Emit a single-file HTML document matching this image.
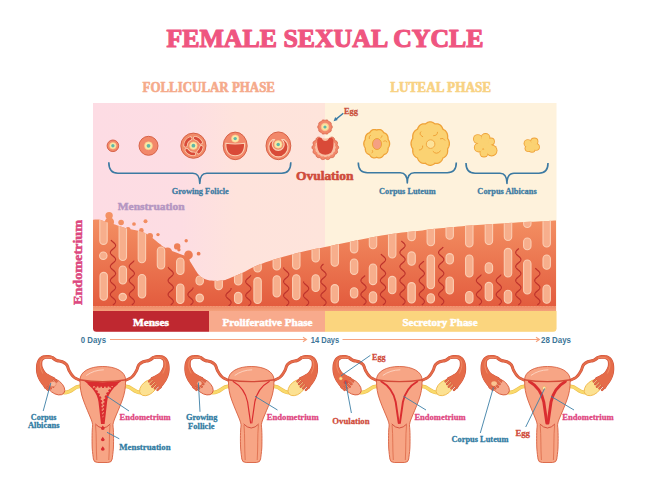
<!DOCTYPE html>
<html><head><meta charset="utf-8"><style>
html,body{margin:0;padding:0;background:#fff;width:650px;height:488px;overflow:hidden}
svg{display:block}
</style></head><body>
<svg width="650" height="488" viewBox="0 0 650 488">
<rect width="650" height="488" fill="#FFFFFF"/>
<text x="166.5" y="46.6" font-family='"Liberation Serif", serif' font-size="25.5" font-weight="bold" fill="#EF5580" text-anchor="start" textLength="317" lengthAdjust="spacingAndGlyphs" stroke="#EF5580" stroke-width="1.15" stroke-linejoin="round" >FEMALE SEXUAL CYCLE</text>
<text x="142.5" y="91.8" font-family='"Liberation Serif", serif' font-size="14" font-weight="bold" fill="#F5AA8B" text-anchor="start" textLength="132.5" lengthAdjust="spacingAndGlyphs" stroke="#F5AA8B" stroke-width="0.63" stroke-linejoin="round" >FOLLICULAR PHASE</text>
<text x="390.2" y="91.9" font-family='"Liberation Serif", serif' font-size="14" font-weight="bold" fill="#F8D283" text-anchor="start" textLength="101" lengthAdjust="spacingAndGlyphs" stroke="#F8D283" stroke-width="0.63" stroke-linejoin="round" >LUTEAL PHASE</text>
<defs><linearGradient id="pinkg" x1="0" x2="1" y1="0" y2="0"><stop offset="0" stop-color="#FDDCE4"/><stop offset="0.38" stop-color="#FDDDE3"/><stop offset="0.62" stop-color="#FEE3DC"/><stop offset="1" stop-color="#FEE4DB"/></linearGradient><linearGradient id="endog" x1="0" x2="0" y1="0" y2="1" gradientUnits="userSpaceOnUse"></linearGradient><linearGradient id="endo" x1="0" y1="215" x2="0" y2="311" gradientUnits="userSpaceOnUse"><stop offset="0" stop-color="#F49264"/><stop offset="1" stop-color="#E2593C"/></linearGradient><clipPath id="panelclip"><path d="M93,103 H556.5 V328.3 Q556.5,331.8 553,331.8 H96.5 Q93,331.8 93,328.3 Z"/></clipPath></defs>
<g clip-path="url(#panelclip)">
<rect x="93" y="103" width="232" height="229" fill="url(#pinkg)"/>
<rect x="325" y="103" width="232" height="229" fill="#FEF2DC"/>
<path d="M93,219.8 C94.2,219.8 97.8,219.4 100,219.8 C102.2,220.2 103.5,221.2 106,222 C108.5,222.8 111.6,223.4 115,224.5 C118.4,225.6 122.9,227.5 126.6,228.5 C130.3,229.5 133.8,229.7 137,230.5 C140.2,231.3 143.0,231.9 146,233.5 C149.0,235.1 152.2,237.8 155,240 C157.8,242.2 160.2,244.7 163,246.5 C165.8,248.3 169.2,249.8 172,251 C174.8,252.2 177.7,253.1 180,254 C182.3,254.9 184.2,255.2 186,256.5 C187.8,257.8 189.1,260.0 190.5,262 C191.9,264.0 193.1,266.3 194.5,268.5 C195.9,270.7 197.1,273.1 199,275 C200.9,276.9 203.6,278.6 206,279.6 C208.4,280.6 211.0,280.6 213.7,280.8 C216.4,281.0 219.4,281.0 222,280.6 C224.6,280.2 225.7,279.8 229,278.5 C232.3,277.2 237.7,275.0 242,273 C246.3,271.0 250.2,268.5 254.8,266.5 C259.4,264.5 264.1,262.8 269.6,261 C275.1,259.2 281.9,257.2 288,255.5 C294.1,253.8 300.3,252.2 306.5,250.8 C312.7,249.4 319.3,248.2 325,247 C330.7,245.8 334.5,244.9 340.5,243.7 C346.5,242.5 354.2,241.0 361,239.6 C367.8,238.2 374.6,236.7 381.4,235.5 C388.2,234.3 395.2,233.2 402,232.4 C408.8,231.6 416.1,231.1 422.4,230.4 C428.7,229.7 432.1,229.1 440,228.3 C447.9,227.5 460.0,226.3 470,225.5 C480.0,224.7 490.0,224.1 500,223.5 C510.0,222.9 520.7,222.3 530,221.8 C539.3,221.3 551.7,220.6 556,220.4 L556,311 L93,311 Z" fill="url(#endo)"/>
<clipPath id="endoclip"><path d="M93,219.8 C94.2,219.8 97.8,219.4 100,219.8 C102.2,220.2 103.5,221.2 106,222 C108.5,222.8 111.6,223.4 115,224.5 C118.4,225.6 122.9,227.5 126.6,228.5 C130.3,229.5 133.8,229.7 137,230.5 C140.2,231.3 143.0,231.9 146,233.5 C149.0,235.1 152.2,237.8 155,240 C157.8,242.2 160.2,244.7 163,246.5 C165.8,248.3 169.2,249.8 172,251 C174.8,252.2 177.7,253.1 180,254 C182.3,254.9 184.2,255.2 186,256.5 C187.8,257.8 189.1,260.0 190.5,262 C191.9,264.0 193.1,266.3 194.5,268.5 C195.9,270.7 197.1,273.1 199,275 C200.9,276.9 203.6,278.6 206,279.6 C208.4,280.6 211.0,280.6 213.7,280.8 C216.4,281.0 219.4,281.0 222,280.6 C224.6,280.2 225.7,279.8 229,278.5 C232.3,277.2 237.7,275.0 242,273 C246.3,271.0 250.2,268.5 254.8,266.5 C259.4,264.5 264.1,262.8 269.6,261 C275.1,259.2 281.9,257.2 288,255.5 C294.1,253.8 300.3,252.2 306.5,250.8 C312.7,249.4 319.3,248.2 325,247 C330.7,245.8 334.5,244.9 340.5,243.7 C346.5,242.5 354.2,241.0 361,239.6 C367.8,238.2 374.6,236.7 381.4,235.5 C388.2,234.3 395.2,233.2 402,232.4 C408.8,231.6 416.1,231.1 422.4,230.4 C428.7,229.7 432.1,229.1 440,228.3 C447.9,227.5 460.0,226.3 470,225.5 C480.0,224.7 490.0,224.1 500,223.5 C510.0,222.9 520.7,222.3 530,221.8 C539.3,221.3 551.7,220.6 556,220.4 L556,311 L93,311 Z"/></clipPath>
<circle cx="109.1" cy="215.6" r="3.7" fill="url(#endo)"/>
<circle cx="109.5" cy="222" r="4.6" fill="url(#endo)"/>
<circle cx="121.1" cy="222.5" r="2.8" fill="url(#endo)"/>
<circle cx="134" cy="224" r="1.85" fill="url(#endo)"/>
<circle cx="145.5" cy="221.2" r="2.0" fill="url(#endo)"/>
<circle cx="141.4" cy="230.4" r="2.3" fill="url(#endo)"/>
<circle cx="156.9" cy="247.5" r="4.5" fill="url(#endo)"/>
<circle cx="167.6" cy="252" r="4.5" fill="url(#endo)"/>
<circle cx="177.2" cy="246.4" r="3.2" fill="url(#endo)"/>
<circle cx="178.9" cy="249.8" r="1.7" fill="url(#endo)"/>
<circle cx="158" cy="234.6" r="1.7" fill="url(#endo)"/>
<circle cx="186.2" cy="240.8" r="1.7" fill="url(#endo)"/>
<circle cx="188.5" cy="254.9" r="4.3" fill="url(#endo)"/>
<circle cx="188" cy="260" r="1.7" fill="url(#endo)"/>
<circle cx="198.6" cy="253.7" r="1.9" fill="url(#endo)"/>
<circle cx="173.8" cy="260" r="3.5" fill="url(#endo)"/>
<circle cx="187.3" cy="271.2" r="3.5" fill="url(#endo)"/>
<circle cx="128" cy="229.5" r="2.5" fill="url(#endo)"/>
<circle cx="150" cy="236" r="3" fill="url(#endo)"/>
<g clip-path="url(#endoclip)">
<rect x="99.8" y="215.0" width="7.4" height="29.4" rx="3.7" fill="#F7AE8C" stroke="#FBCDB2" stroke-width="1.1"/>
<rect x="99.6" y="252.0" width="7.4" height="7.4" rx="3.7" fill="#F7AE8C" stroke="#FBCDB2" stroke-width="1.1"/>
<rect x="100.0" y="272.4" width="7.4" height="27.9" rx="3.7" fill="#F7AE8C" stroke="#FBCDB2" stroke-width="1.1"/>
<rect x="119.1" y="222.0" width="7.4" height="38.5" rx="3.7" fill="#F7AE8C" stroke="#FBCDB2" stroke-width="1.1"/>
<rect x="119.1" y="266.0" width="7.4" height="18.0" rx="3.7" fill="#F7AE8C" stroke="#FBCDB2" stroke-width="1.1"/>
<rect x="119.0" y="293.4" width="7.4" height="7.4" rx="3.7" fill="#F7AE8C" stroke="#FBCDB2" stroke-width="1.1"/>
<rect x="138.2" y="229.0" width="7.4" height="33.7" rx="3.7" fill="#F7AE8C" stroke="#FBCDB2" stroke-width="1.1"/>
<rect x="138.3" y="274.5" width="7.4" height="23.5" rx="3.7" fill="#F7AE8C" stroke="#FBCDB2" stroke-width="1.1"/>
<rect x="157.3" y="247.0" width="7.4" height="22.0" rx="3.7" fill="#F7AE8C" stroke="#FBCDB2" stroke-width="1.1"/>
<rect x="176.6" y="258.0" width="7.4" height="16.5" rx="3.7" fill="#F7AE8C" stroke="#FBCDB2" stroke-width="1.1"/>
<rect x="176.6" y="284.0" width="7.4" height="19.5" rx="3.7" fill="#F7AE8C" stroke="#FBCDB2" stroke-width="1.1"/>
<rect x="196.0" y="276.0" width="7.4" height="9.0" rx="3.7" fill="#F7AE8C" stroke="#FBCDB2" stroke-width="1.1"/>
<rect x="196.0" y="294.1" width="7.4" height="7.8" rx="3.7" fill="#F7AE8C" stroke="#FBCDB2" stroke-width="1.1"/>
<rect x="215.0" y="275.0" width="7.4" height="14.6" rx="3.7" fill="#F7AE8C" stroke="#FBCDB2" stroke-width="1.1"/>
<rect x="234.5" y="270.0" width="7.4" height="15.0" rx="3.7" fill="#F7AE8C" stroke="#FBCDB2" stroke-width="1.1"/>
<rect x="234.5" y="292.4" width="7.4" height="11.1" rx="3.7" fill="#F7AE8C" stroke="#FBCDB2" stroke-width="1.1"/>
<rect x="253.9" y="262.0" width="7.4" height="10.0" rx="3.7" fill="#F7AE8C" stroke="#FBCDB2" stroke-width="1.1"/>
<rect x="253.9" y="277.6" width="7.4" height="25.9" rx="3.7" fill="#F7AE8C" stroke="#FBCDB2" stroke-width="1.1"/>
<rect x="273.1" y="256.0" width="7.4" height="14.0" rx="3.7" fill="#F7AE8C" stroke="#FBCDB2" stroke-width="1.1"/>
<rect x="273.1" y="275.8" width="7.4" height="21.2" rx="3.7" fill="#F7AE8C" stroke="#FBCDB2" stroke-width="1.1"/>
<rect x="292.6" y="250.0" width="7.4" height="19.3" rx="3.7" fill="#F7AE8C" stroke="#FBCDB2" stroke-width="1.1"/>
<rect x="292.6" y="274.8" width="7.4" height="25.0" rx="3.7" fill="#F7AE8C" stroke="#FBCDB2" stroke-width="1.1"/>
<rect x="312.0" y="246.0" width="7.4" height="16.0" rx="3.7" fill="#F7AE8C" stroke="#FBCDB2" stroke-width="1.1"/>
<rect x="312.0" y="274.8" width="7.4" height="16.7" rx="3.7" fill="#F7AE8C" stroke="#FBCDB2" stroke-width="1.1"/>
<rect x="331.1" y="242.0" width="7.4" height="24.2" rx="3.7" fill="#F7AE8C" stroke="#FBCDB2" stroke-width="1.1"/>
<rect x="331.1" y="284.6" width="7.4" height="18.4" rx="3.7" fill="#F7AE8C" stroke="#FBCDB2" stroke-width="1.1"/>
<rect x="350.4" y="238.0" width="7.4" height="14.9" rx="3.7" fill="#F7AE8C" stroke="#FBCDB2" stroke-width="1.1"/>
<rect x="350.4" y="259.0" width="7.4" height="15.4" rx="3.7" fill="#F7AE8C" stroke="#FBCDB2" stroke-width="1.1"/>
<rect x="350.4" y="287.7" width="7.4" height="10.3" rx="3.7" fill="#F7AE8C" stroke="#FBCDB2" stroke-width="1.1"/>
<rect x="369.3" y="234.0" width="7.4" height="14.8" rx="3.7" fill="#F7AE8C" stroke="#FBCDB2" stroke-width="1.1"/>
<rect x="369.3" y="264.0" width="7.4" height="20.6" rx="3.7" fill="#F7AE8C" stroke="#FBCDB2" stroke-width="1.1"/>
<rect x="369.3" y="291.8" width="7.4" height="11.2" rx="3.7" fill="#F7AE8C" stroke="#FBCDB2" stroke-width="1.1"/>
<rect x="388.5" y="230.0" width="7.4" height="28.0" rx="3.7" fill="#F7AE8C" stroke="#FBCDB2" stroke-width="1.1"/>
<rect x="388.5" y="276.4" width="7.4" height="17.4" rx="3.7" fill="#F7AE8C" stroke="#FBCDB2" stroke-width="1.1"/>
<rect x="407.9" y="227.0" width="7.4" height="13.6" rx="3.7" fill="#F7AE8C" stroke="#FBCDB2" stroke-width="1.1"/>
<rect x="407.9" y="251.9" width="7.4" height="13.3" rx="3.7" fill="#F7AE8C" stroke="#FBCDB2" stroke-width="1.1"/>
<rect x="407.9" y="282.6" width="7.4" height="20.4" rx="3.7" fill="#F7AE8C" stroke="#FBCDB2" stroke-width="1.1"/>
<rect x="427.1" y="225.0" width="7.4" height="20.7" rx="3.7" fill="#F7AE8C" stroke="#FBCDB2" stroke-width="1.1"/>
<rect x="427.1" y="255.0" width="7.4" height="33.7" rx="3.7" fill="#F7AE8C" stroke="#FBCDB2" stroke-width="1.1"/>
<rect x="427.1" y="293.8" width="7.4" height="9.2" rx="3.7" fill="#F7AE8C" stroke="#FBCDB2" stroke-width="1.1"/>
<rect x="446.0" y="222.0" width="7.4" height="17.2" rx="3.7" fill="#F7AE8C" stroke="#FBCDB2" stroke-width="1.1"/>
<rect x="446.0" y="253.6" width="7.4" height="10.4" rx="3.7" fill="#F7AE8C" stroke="#FBCDB2" stroke-width="1.1"/>
<rect x="446.0" y="277.0" width="7.4" height="17.0" rx="3.7" fill="#F7AE8C" stroke="#FBCDB2" stroke-width="1.1"/>
<rect x="465.6" y="222.0" width="7.4" height="25.0" rx="3.7" fill="#F7AE8C" stroke="#FBCDB2" stroke-width="1.1"/>
<rect x="465.6" y="255.0" width="7.4" height="22.0" rx="3.7" fill="#F7AE8C" stroke="#FBCDB2" stroke-width="1.1"/>
<rect x="465.6" y="291.5" width="7.4" height="11.8" rx="3.7" fill="#F7AE8C" stroke="#FBCDB2" stroke-width="1.1"/>
<rect x="485.2" y="220.0" width="7.4" height="24.5" rx="3.7" fill="#F7AE8C" stroke="#FBCDB2" stroke-width="1.1"/>
<rect x="485.2" y="262.8" width="7.4" height="10.4" rx="3.7" fill="#F7AE8C" stroke="#FBCDB2" stroke-width="1.1"/>
<rect x="485.2" y="282.4" width="7.4" height="18.3" rx="3.7" fill="#F7AE8C" stroke="#FBCDB2" stroke-width="1.1"/>
<rect x="504.3" y="219.0" width="7.4" height="21.5" rx="3.7" fill="#F7AE8C" stroke="#FBCDB2" stroke-width="1.1"/>
<rect x="504.3" y="248.4" width="7.4" height="28.6" rx="3.7" fill="#F7AE8C" stroke="#FBCDB2" stroke-width="1.1"/>
<rect x="504.3" y="290.2" width="7.4" height="13.1" rx="3.7" fill="#F7AE8C" stroke="#FBCDB2" stroke-width="1.1"/>
<rect x="523.6" y="218.0" width="7.4" height="9.5" rx="3.7" fill="#F7AE8C" stroke="#FBCDB2" stroke-width="1.1"/>
<rect x="523.6" y="238.0" width="7.4" height="11.7" rx="3.7" fill="#F7AE8C" stroke="#FBCDB2" stroke-width="1.1"/>
<rect x="523.6" y="260.0" width="7.4" height="34.0" rx="3.7" fill="#F7AE8C" stroke="#FBCDB2" stroke-width="1.1"/>
<rect x="543.0" y="217.0" width="7.4" height="30.0" rx="3.7" fill="#F7AE8C" stroke="#FBCDB2" stroke-width="1.1"/>
<rect x="543.0" y="255.0" width="7.4" height="14.3" rx="3.7" fill="#F7AE8C" stroke="#FBCDB2" stroke-width="1.1"/>
<rect x="543.0" y="285.0" width="7.4" height="18.3" rx="3.7" fill="#F7AE8C" stroke="#FBCDB2" stroke-width="1.1"/>
</g>
<polyline points="113.00,305.00 113.58,304.50 114.13,304.00 114.62,303.50 115.03,303.00 115.34,302.50 115.53,302.00 115.60,301.50 115.53,301.00 115.34,300.50 115.03,300.00 114.62,299.50 114.13,299.00 113.58,298.50 113.00,298.00 112.42,297.50 111.87,297.00 111.38,296.50 110.97,296.00 110.66,295.50 110.47,295.00 110.40,294.50 110.47,294.00 110.66,293.50 110.97,293.00 111.38,292.50 111.87,292.00 112.42,291.50 113.00,291.00 113.58,290.50 114.13,290.00 114.62,289.50 115.03,289.00 115.34,288.50 115.53,288.00 115.60,287.50 115.53,287.00 115.34,286.50 115.03,286.00 114.62,285.50 114.13,285.00 113.58,284.50 113.00,284.00 112.42,283.50 111.87,283.00 111.38,282.50 110.97,282.00 110.66,281.50 110.47,281.00 110.40,280.50 110.47,280.00 110.66,279.50 110.97,279.00 111.38,278.50 111.87,278.00 112.42,277.50 113.00,277.00 113.58,276.50 114.13,276.00 114.62,275.50 115.03,275.00 115.34,274.50 115.53,274.00 115.60,273.50 115.53,273.00 115.34,272.50 115.03,272.00 114.62,271.50 114.13,271.00 113.58,270.50 113.00,270.00 112.42,269.50 111.87,269.00 111.38,268.50 110.97,268.00 110.66,267.50 110.47,267.00 110.40,266.50 110.47,266.00 110.66,265.50 110.97,265.00 111.38,264.50 111.87,264.00 112.42,263.50 113.00,263.00 113.58,262.50 114.13,262.00 114.62,261.50 115.03,261.00 115.34,260.50 115.53,260.00 115.60,259.50 115.53,259.00 115.34,258.50 115.03,258.00 114.62,257.50 114.13,257.00 113.58,256.50 113.00,256.00 112.42,255.50 111.87,255.00 111.38,254.50 110.97,254.00 110.66,253.50 110.47,253.00 110.40,252.50 110.47,252.00 110.66,251.50 110.97,251.00 111.38,250.50 111.87,250.00 112.42,249.50 113.00,249.00 113.58,248.50 114.13,248.00 114.62,247.50 115.03,247.00 115.34,246.50 115.53,246.00 115.60,245.50 115.53,245.00 115.34,244.50 115.03,244.00 114.62,243.50 114.13,243.00 113.58,242.50 113.00,242.00 112.42,241.50 111.87,241.00 111.38,240.50 110.97,240.00" fill="none" stroke="#BE332C" stroke-width="1.15"/>
<polyline points="131.80,305.00 132.38,304.50 132.93,304.00 133.42,303.50 133.83,303.00 134.14,302.50 134.33,302.00 134.40,301.50 134.33,301.00 134.14,300.50 133.83,300.00 133.42,299.50 132.93,299.00 132.38,298.50 131.80,298.00 131.22,297.50 130.67,297.00 130.18,296.50 129.77,296.00 129.46,295.50 129.27,295.00 129.20,294.50 129.27,294.00 129.46,293.50 129.77,293.00 130.18,292.50 130.67,292.00 131.22,291.50 131.80,291.00 132.38,290.50 132.93,290.00 133.42,289.50 133.83,289.00 134.14,288.50 134.33,288.00 134.40,287.50 134.33,287.00 134.14,286.50 133.83,286.00 133.42,285.50 132.93,285.00 132.38,284.50 131.80,284.00 131.22,283.50 130.67,283.00 130.18,282.50 129.77,282.00 129.46,281.50 129.27,281.00 129.20,280.50 129.27,280.00 129.46,279.50 129.77,279.00 130.18,278.50 130.67,278.00 131.22,277.50 131.80,277.00 132.38,276.50 132.93,276.00 133.42,275.50 133.83,275.00 134.14,274.50 134.33,274.00 134.40,273.50 134.33,273.00 134.14,272.50 133.83,272.00 133.42,271.50 132.93,271.00 132.38,270.50 131.80,270.00 131.22,269.50 130.67,269.00 130.18,268.50 129.77,268.00 129.46,267.50 129.27,267.00 129.20,266.50 129.27,266.00 129.46,265.50 129.77,265.00 130.18,264.50 130.67,264.00 131.22,263.50 131.80,263.00 132.38,262.50 132.93,262.00 133.42,261.50 133.83,261.00 134.14,260.50" fill="none" stroke="#BE332C" stroke-width="1.15"/>
<polyline points="170.70,305.00 171.28,304.50 171.83,304.00 172.32,303.50 172.73,303.00 173.04,302.50 173.23,302.00 173.30,301.50 173.23,301.00 173.04,300.50 172.73,300.00 172.32,299.50 171.83,299.00 171.28,298.50 170.70,298.00 170.12,297.50 169.57,297.00 169.08,296.50 168.67,296.00 168.36,295.50 168.17,295.00 168.10,294.50 168.17,294.00 168.36,293.50 168.67,293.00 169.08,292.50 169.57,292.00 170.12,291.50 170.70,291.00 171.28,290.50 171.83,290.00 172.32,289.50 172.73,289.00 173.04,288.50 173.23,288.00 173.30,287.50 173.23,287.00 173.04,286.50 172.73,286.00 172.32,285.50 171.83,285.00 171.28,284.50 170.70,284.00 170.12,283.50 169.57,283.00 169.08,282.50 168.67,282.00 168.36,281.50 168.17,281.00 168.10,280.50 168.17,280.00 168.36,279.50 168.67,279.00 169.08,278.50 169.57,278.00 170.12,277.50 170.70,277.00 171.28,276.50 171.83,276.00 172.32,275.50 172.73,275.00 173.04,274.50 173.23,274.00 173.30,273.50 173.23,273.00 173.04,272.50 172.73,272.00 172.32,271.50 171.83,271.00 171.28,270.50 170.70,270.00 170.12,269.50 169.57,269.00 169.08,268.50 168.67,268.00 168.36,267.50 168.17,267.00" fill="none" stroke="#BE332C" stroke-width="1.15"/>
<polyline points="190.50,305.00 191.08,304.50 191.63,304.00 192.12,303.50 192.53,303.00 192.84,302.50 193.03,302.00 193.10,301.50 193.03,301.00 192.84,300.50 192.53,300.00 192.12,299.50 191.63,299.00 191.08,298.50 190.50,298.00 189.92,297.50 189.37,297.00 188.88,296.50 188.47,296.00 188.16,295.50 187.97,295.00 187.90,294.50 187.97,294.00 188.16,293.50 188.47,293.00 188.88,292.50 189.37,292.00 189.92,291.50 190.50,291.00 191.08,290.50 191.63,290.00 192.12,289.50 192.53,289.00 192.84,288.50 193.03,288.00 193.10,287.50" fill="none" stroke="#BE332C" stroke-width="1.15"/>
<polyline points="228.50,306.00 229.08,305.50 229.63,305.00 230.12,304.50 230.53,304.00 230.84,303.50 231.03,303.00 231.10,302.50 231.03,302.00 230.84,301.50 230.53,301.00 230.12,300.50 229.63,300.00 229.08,299.50 228.50,299.00 227.92,298.50 227.37,298.00 226.88,297.50 226.47,297.00 226.16,296.50 225.97,296.00 225.90,295.50 225.97,295.00 226.16,294.50 226.47,294.00 226.88,293.50 227.37,293.00 227.92,292.50 228.50,292.00 229.08,291.50 229.63,291.00 230.12,290.50 230.53,290.00 230.84,289.50 231.03,289.00 231.10,288.50 231.03,288.00" fill="none" stroke="#BE332C" stroke-width="1.15"/>
<polyline points="248.30,306.00 248.88,305.50 249.43,305.00 249.92,304.50 250.33,304.00 250.64,303.50 250.83,303.00 250.90,302.50 250.83,302.00 250.64,301.50 250.33,301.00 249.92,300.50 249.43,300.00 248.88,299.50 248.30,299.00 247.72,298.50 247.17,298.00 246.68,297.50 246.27,297.00 245.96,296.50 245.77,296.00 245.70,295.50 245.77,295.00 245.96,294.50 246.27,294.00 246.68,293.50 247.17,293.00 247.72,292.50 248.30,292.00 248.88,291.50 249.43,291.00 249.92,290.50 250.33,290.00 250.64,289.50 250.83,289.00 250.90,288.50 250.83,288.00 250.64,287.50 250.33,287.00 249.92,286.50 249.43,286.00 248.88,285.50 248.30,285.00 247.72,284.50 247.17,284.00 246.68,283.50 246.27,283.00 245.96,282.50 245.77,282.00 245.70,281.50 245.77,281.00 245.96,280.50 246.27,280.00 246.68,279.50 247.17,279.00 247.72,278.50 248.30,278.00 248.88,277.50 249.43,277.00 249.92,276.50 250.33,276.00 250.64,275.50 250.83,275.00" fill="none" stroke="#BE332C" stroke-width="1.15"/>
<polyline points="286.20,306.00 286.78,305.50 287.33,305.00 287.82,304.50 288.23,304.00 288.54,303.50 288.73,303.00 288.80,302.50 288.73,302.00 288.54,301.50 288.23,301.00 287.82,300.50 287.33,300.00 286.78,299.50 286.20,299.00 285.62,298.50 285.07,298.00 284.58,297.50 284.17,297.00 283.86,296.50 283.67,296.00 283.60,295.50 283.67,295.00 283.86,294.50 284.17,294.00 284.58,293.50 285.07,293.00 285.62,292.50 286.20,292.00 286.78,291.50 287.33,291.00 287.82,290.50 288.23,290.00 288.54,289.50 288.73,289.00 288.80,288.50 288.73,288.00 288.54,287.50 288.23,287.00 287.82,286.50 287.33,286.00 286.78,285.50 286.20,285.00 285.62,284.50 285.07,284.00 284.58,283.50 284.17,283.00 283.86,282.50 283.67,282.00 283.60,281.50 283.67,281.00 283.86,280.50 284.17,280.00 284.58,279.50 285.07,279.00 285.62,278.50 286.20,278.00 286.78,277.50 287.33,277.00 287.82,276.50 288.23,276.00 288.54,275.50 288.73,275.00 288.80,274.50 288.73,274.00 288.54,273.50 288.23,273.00 287.82,272.50 287.33,272.00 286.78,271.50 286.20,271.00 285.62,270.50 285.07,270.00 284.58,269.50 284.17,269.00 283.86,268.50 283.67,268.00 283.60,267.50" fill="none" stroke="#BE332C" stroke-width="1.15"/>
<polyline points="306.10,306.00 306.68,305.50 307.23,305.00 307.72,304.50 308.13,304.00 308.44,303.50 308.63,303.00 308.70,302.50 308.63,302.00 308.44,301.50 308.13,301.00 307.72,300.50 307.23,300.00 306.68,299.50 306.10,299.00 305.52,298.50 304.97,298.00 304.48,297.50 304.07,297.00 303.76,296.50 303.57,296.00 303.50,295.50 303.57,295.00 303.76,294.50 304.07,294.00 304.48,293.50 304.97,293.00 305.52,292.50 306.10,292.00 306.68,291.50 307.23,291.00 307.72,290.50 308.13,290.00 308.44,289.50 308.63,289.00 308.70,288.50 308.63,288.00 308.44,287.50 308.13,287.00 307.72,286.50 307.23,286.00 306.68,285.50 306.10,285.00 305.52,284.50 304.97,284.00 304.48,283.50 304.07,283.00 303.76,282.50 303.57,282.00 303.50,281.50" fill="none" stroke="#BE332C" stroke-width="1.15"/>
<polyline points="323.50,306.00 324.08,305.50 324.63,305.00 325.12,304.50 325.53,304.00 325.84,303.50 326.03,303.00 326.10,302.50 326.03,302.00 325.84,301.50 325.53,301.00 325.12,300.50 324.63,300.00 324.08,299.50 323.50,299.00 322.92,298.50 322.37,298.00 321.88,297.50 321.47,297.00 321.16,296.50 320.97,296.00 320.90,295.50 320.97,295.00 321.16,294.50 321.47,294.00 321.88,293.50 322.37,293.00 322.92,292.50 323.50,292.00 324.08,291.50 324.63,291.00 325.12,290.50 325.53,290.00 325.84,289.50 326.03,289.00 326.10,288.50 326.03,288.00 325.84,287.50 325.53,287.00 325.12,286.50 324.63,286.00 324.08,285.50 323.50,285.00 322.92,284.50 322.37,284.00 321.88,283.50 321.47,283.00 321.16,282.50 320.97,282.00 320.90,281.50 320.97,281.00 321.16,280.50 321.47,280.00 321.88,279.50 322.37,279.00 322.92,278.50 323.50,278.00 324.08,277.50 324.63,277.00 325.12,276.50 325.53,276.00 325.84,275.50 326.03,275.00 326.10,274.50 326.03,274.00 325.84,273.50 325.53,273.00 325.12,272.50 324.63,272.00 324.08,271.50 323.50,271.00 322.92,270.50 322.37,270.00 321.88,269.50 321.47,269.00 321.16,268.50 320.97,268.00 320.90,267.50 320.97,267.00 321.16,266.50 321.47,266.00 321.88,265.50 322.37,265.00 322.92,264.50 323.50,264.00" fill="none" stroke="#BE332C" stroke-width="1.15"/>
<polyline points="363.50,305.00 364.08,304.50 364.63,304.00 365.12,303.50 365.53,303.00 365.84,302.50 366.03,302.00 366.10,301.50 366.03,301.00 365.84,300.50 365.53,300.00 365.12,299.50 364.63,299.00 364.08,298.50 363.50,298.00 362.92,297.50 362.37,297.00 361.88,296.50 361.47,296.00 361.16,295.50 360.97,295.00 360.90,294.50 360.97,294.00 361.16,293.50 361.47,293.00 361.88,292.50 362.37,292.00 362.92,291.50 363.50,291.00 364.08,290.50 364.63,290.00 365.12,289.50 365.53,289.00 365.84,288.50 366.03,288.00 366.10,287.50 366.03,287.00 365.84,286.50 365.53,286.00 365.12,285.50 364.63,285.00 364.08,284.50 363.50,284.00 362.92,283.50 362.37,283.00 361.88,282.50 361.47,282.00 361.16,281.50 360.97,281.00 360.90,280.50 360.97,280.00 361.16,279.50 361.47,279.00 361.88,278.50 362.37,278.00 362.92,277.50 363.50,277.00 364.08,276.50 364.63,276.00 365.12,275.50" fill="none" stroke="#BE332C" stroke-width="1.15"/>
<polyline points="383.00,305.00 383.58,304.50 384.13,304.00 384.62,303.50 385.03,303.00 385.34,302.50 385.53,302.00 385.60,301.50 385.53,301.00 385.34,300.50 385.03,300.00 384.62,299.50 384.13,299.00 383.58,298.50 383.00,298.00 382.42,297.50 381.87,297.00 381.38,296.50 380.97,296.00 380.66,295.50 380.47,295.00 380.40,294.50 380.47,294.00 380.66,293.50 380.97,293.00 381.38,292.50 381.87,292.00 382.42,291.50 383.00,291.00 383.58,290.50 384.13,290.00 384.62,289.50 385.03,289.00 385.34,288.50 385.53,288.00 385.60,287.50 385.53,287.00 385.34,286.50 385.03,286.00 384.62,285.50 384.13,285.00 383.58,284.50 383.00,284.00 382.42,283.50 381.87,283.00 381.38,282.50 380.97,282.00 380.66,281.50 380.47,281.00 380.40,280.50 380.47,280.00 380.66,279.50 380.97,279.00 381.38,278.50 381.87,278.00 382.42,277.50 383.00,277.00 383.58,276.50 384.13,276.00 384.62,275.50 385.03,275.00 385.34,274.50 385.53,274.00 385.60,273.50 385.53,273.00 385.34,272.50 385.03,272.00 384.62,271.50 384.13,271.00 383.58,270.50 383.00,270.00 382.42,269.50 381.87,269.00 381.38,268.50 380.97,268.00 380.66,267.50 380.47,267.00 380.40,266.50 380.47,266.00 380.66,265.50 380.97,265.00 381.38,264.50 381.87,264.00 382.42,263.50 383.00,263.00 383.58,262.50 384.13,262.00 384.62,261.50 385.03,261.00 385.34,260.50 385.53,260.00 385.60,259.50 385.53,259.00 385.34,258.50 385.03,258.00 384.62,257.50 384.13,257.00 383.58,256.50 383.00,256.00 382.42,255.50 381.87,255.00 381.38,254.50 380.97,254.00" fill="none" stroke="#BE332C" stroke-width="1.15"/>
<polyline points="402.50,305.00 403.08,304.50 403.63,304.00 404.12,303.50 404.53,303.00 404.84,302.50 405.03,302.00 405.10,301.50 405.03,301.00 404.84,300.50 404.53,300.00 404.12,299.50 403.63,299.00 403.08,298.50 402.50,298.00 401.92,297.50 401.37,297.00 400.88,296.50 400.47,296.00 400.16,295.50 399.97,295.00 399.90,294.50 399.97,294.00 400.16,293.50 400.47,293.00 400.88,292.50 401.37,292.00 401.92,291.50 402.50,291.00 403.08,290.50 403.63,290.00 404.12,289.50 404.53,289.00 404.84,288.50 405.03,288.00 405.10,287.50 405.03,287.00 404.84,286.50 404.53,286.00 404.12,285.50 403.63,285.00 403.08,284.50 402.50,284.00 401.92,283.50 401.37,283.00 400.88,282.50 400.47,282.00 400.16,281.50 399.97,281.00 399.90,280.50 399.97,280.00 400.16,279.50 400.47,279.00 400.88,278.50 401.37,278.00 401.92,277.50 402.50,277.00 403.08,276.50 403.63,276.00 404.12,275.50 404.53,275.00 404.84,274.50 405.03,274.00 405.10,273.50 405.03,273.00 404.84,272.50 404.53,272.00 404.12,271.50 403.63,271.00 403.08,270.50 402.50,270.00 401.92,269.50 401.37,269.00 400.88,268.50 400.47,268.00 400.16,267.50 399.97,267.00 399.90,266.50 399.97,266.00 400.16,265.50 400.47,265.00 400.88,264.50 401.37,264.00 401.92,263.50 402.50,263.00 403.08,262.50 403.63,262.00 404.12,261.50 404.53,261.00 404.84,260.50 405.03,260.00 405.10,259.50 405.03,259.00 404.84,258.50 404.53,258.00 404.12,257.50 403.63,257.00 403.08,256.50 402.50,256.00 401.92,255.50 401.37,255.00 400.88,254.50 400.47,254.00 400.16,253.50 399.97,253.00 399.90,252.50 399.97,252.00 400.16,251.50 400.47,251.00 400.88,250.50 401.37,250.00 401.92,249.50 402.50,249.00 403.08,248.50 403.63,248.00 404.12,247.50 404.53,247.00 404.84,246.50 405.03,246.00 405.10,245.50 405.03,245.00 404.84,244.50 404.53,244.00 404.12,243.50 403.63,243.00 403.08,242.50 402.50,242.00 401.92,241.50 401.37,241.00" fill="none" stroke="#BE332C" stroke-width="1.15"/>
<polyline points="421.80,305.00 422.38,304.50 422.93,304.00 423.42,303.50 423.83,303.00 424.14,302.50 424.33,302.00 424.40,301.50 424.33,301.00 424.14,300.50 423.83,300.00 423.42,299.50 422.93,299.00 422.38,298.50 421.80,298.00 421.22,297.50 420.67,297.00 420.18,296.50 419.77,296.00 419.46,295.50 419.27,295.00 419.20,294.50 419.27,294.00 419.46,293.50 419.77,293.00 420.18,292.50 420.67,292.00 421.22,291.50 421.80,291.00 422.38,290.50 422.93,290.00 423.42,289.50 423.83,289.00 424.14,288.50 424.33,288.00 424.40,287.50 424.33,287.00 424.14,286.50 423.83,286.00 423.42,285.50 422.93,285.00 422.38,284.50 421.80,284.00 421.22,283.50 420.67,283.00 420.18,282.50 419.77,282.00 419.46,281.50 419.27,281.00 419.20,280.50 419.27,280.00 419.46,279.50 419.77,279.00 420.18,278.50 420.67,278.00 421.22,277.50 421.80,277.00 422.38,276.50 422.93,276.00 423.42,275.50 423.83,275.00 424.14,274.50 424.33,274.00 424.40,273.50 424.33,273.00 424.14,272.50 423.83,272.00 423.42,271.50 422.93,271.00 422.38,270.50 421.80,270.00 421.22,269.50 420.67,269.00 420.18,268.50 419.77,268.00 419.46,267.50 419.27,267.00 419.20,266.50 419.27,266.00 419.46,265.50 419.77,265.00 420.18,264.50 420.67,264.00 421.22,263.50 421.80,263.00 422.38,262.50 422.93,262.00 423.42,261.50 423.83,261.00" fill="none" stroke="#BE332C" stroke-width="1.15"/>
<polyline points="441.20,305.00 441.78,304.50 442.33,304.00 442.82,303.50 443.23,303.00 443.54,302.50 443.73,302.00 443.80,301.50 443.73,301.00 443.54,300.50 443.23,300.00 442.82,299.50 442.33,299.00 441.78,298.50 441.20,298.00 440.62,297.50 440.07,297.00 439.58,296.50 439.17,296.00 438.86,295.50 438.67,295.00 438.60,294.50 438.67,294.00 438.86,293.50 439.17,293.00 439.58,292.50 440.07,292.00 440.62,291.50 441.20,291.00 441.78,290.50 442.33,290.00 442.82,289.50 443.23,289.00 443.54,288.50 443.73,288.00 443.80,287.50 443.73,287.00 443.54,286.50 443.23,286.00 442.82,285.50 442.33,285.00 441.78,284.50 441.20,284.00 440.62,283.50 440.07,283.00 439.58,282.50 439.17,282.00 438.86,281.50 438.67,281.00 438.60,280.50 438.67,280.00 438.86,279.50 439.17,279.00 439.58,278.50 440.07,278.00 440.62,277.50 441.20,277.00 441.78,276.50 442.33,276.00 442.82,275.50 443.23,275.00 443.54,274.50 443.73,274.00 443.80,273.50 443.73,273.00 443.54,272.50 443.23,272.00 442.82,271.50 442.33,271.00 441.78,270.50 441.20,270.00 440.62,269.50 440.07,269.00 439.58,268.50 439.17,268.00 438.86,267.50 438.67,267.00 438.60,266.50 438.67,266.00 438.86,265.50 439.17,265.00 439.58,264.50 440.07,264.00 440.62,263.50 441.20,263.00 441.78,262.50 442.33,262.00 442.82,261.50 443.23,261.00 443.54,260.50 443.73,260.00 443.80,259.50 443.73,259.00 443.54,258.50 443.23,258.00 442.82,257.50 442.33,257.00 441.78,256.50 441.20,256.00 440.62,255.50 440.07,255.00 439.58,254.50 439.17,254.00 438.86,253.50 438.67,253.00 438.60,252.50 438.67,252.00 438.86,251.50 439.17,251.00 439.58,250.50 440.07,250.00 440.62,249.50 441.20,249.00 441.78,248.50 442.33,248.00 442.82,247.50 443.23,247.00" fill="none" stroke="#BE332C" stroke-width="1.15"/>
<polyline points="479.00,305.00 479.58,304.50 480.13,304.00 480.62,303.50 481.03,303.00 481.34,302.50 481.53,302.00 481.60,301.50 481.53,301.00 481.34,300.50 481.03,300.00 480.62,299.50 480.13,299.00 479.58,298.50 479.00,298.00 478.42,297.50 477.87,297.00 477.38,296.50 476.97,296.00 476.66,295.50 476.47,295.00 476.40,294.50 476.47,294.00 476.66,293.50 476.97,293.00 477.38,292.50 477.87,292.00 478.42,291.50 479.00,291.00 479.58,290.50 480.13,290.00 480.62,289.50 481.03,289.00 481.34,288.50 481.53,288.00 481.60,287.50 481.53,287.00 481.34,286.50 481.03,286.00 480.62,285.50 480.13,285.00 479.58,284.50 479.00,284.00 478.42,283.50 477.87,283.00 477.38,282.50 476.97,282.00 476.66,281.50 476.47,281.00 476.40,280.50 476.47,280.00 476.66,279.50 476.97,279.00 477.38,278.50 477.87,278.00 478.42,277.50 479.00,277.00 479.58,276.50 480.13,276.00 480.62,275.50 481.03,275.00 481.34,274.50" fill="none" stroke="#BE332C" stroke-width="1.15"/>
<polyline points="498.80,305.00 499.38,304.50 499.93,304.00 500.42,303.50 500.83,303.00 501.14,302.50 501.33,302.00 501.40,301.50 501.33,301.00 501.14,300.50 500.83,300.00 500.42,299.50 499.93,299.00 499.38,298.50 498.80,298.00 498.22,297.50 497.67,297.00 497.18,296.50 496.77,296.00 496.46,295.50 496.27,295.00 496.20,294.50 496.27,294.00 496.46,293.50 496.77,293.00 497.18,292.50 497.67,292.00 498.22,291.50 498.80,291.00 499.38,290.50 499.93,290.00 500.42,289.50 500.83,289.00 501.14,288.50 501.33,288.00 501.40,287.50 501.33,287.00 501.14,286.50 500.83,286.00 500.42,285.50 499.93,285.00 499.38,284.50 498.80,284.00 498.22,283.50 497.67,283.00 497.18,282.50 496.77,282.00 496.46,281.50 496.27,281.00 496.20,280.50 496.27,280.00 496.46,279.50 496.77,279.00 497.18,278.50 497.67,278.00 498.22,277.50 498.80,277.00 499.38,276.50 499.93,276.00 500.42,275.50 500.83,275.00 501.14,274.50" fill="none" stroke="#BE332C" stroke-width="1.15"/>
<polyline points="518.30,305.00 518.88,304.50 519.43,304.00 519.92,303.50 520.33,303.00 520.64,302.50 520.83,302.00 520.90,301.50 520.83,301.00 520.64,300.50 520.33,300.00 519.92,299.50 519.43,299.00 518.88,298.50 518.30,298.00 517.72,297.50 517.17,297.00 516.68,296.50 516.27,296.00 515.96,295.50 515.77,295.00 515.70,294.50 515.77,294.00 515.96,293.50 516.27,293.00 516.68,292.50 517.17,292.00 517.72,291.50 518.30,291.00 518.88,290.50 519.43,290.00 519.92,289.50 520.33,289.00 520.64,288.50 520.83,288.00 520.90,287.50 520.83,287.00 520.64,286.50 520.33,286.00 519.92,285.50 519.43,285.00 518.88,284.50 518.30,284.00 517.72,283.50 517.17,283.00 516.68,282.50 516.27,282.00 515.96,281.50 515.77,281.00 515.70,280.50 515.77,280.00 515.96,279.50 516.27,279.00 516.68,278.50 517.17,278.00 517.72,277.50 518.30,277.00 518.88,276.50 519.43,276.00 519.92,275.50 520.33,275.00 520.64,274.50 520.83,274.00 520.90,273.50 520.83,273.00 520.64,272.50 520.33,272.00 519.92,271.50 519.43,271.00 518.88,270.50 518.30,270.00 517.72,269.50 517.17,269.00 516.68,268.50 516.27,268.00 515.96,267.50 515.77,267.00 515.70,266.50 515.77,266.00 515.96,265.50 516.27,265.00 516.68,264.50 517.17,264.00 517.72,263.50 518.30,263.00 518.88,262.50 519.43,262.00 519.92,261.50 520.33,261.00 520.64,260.50 520.83,260.00 520.90,259.50 520.83,259.00 520.64,258.50 520.33,258.00 519.92,257.50 519.43,257.00 518.88,256.50 518.30,256.00 517.72,255.50 517.17,255.00 516.68,254.50 516.27,254.00 515.96,253.50 515.77,253.00 515.70,252.50 515.77,252.00 515.96,251.50 516.27,251.00 516.68,250.50 517.17,250.00 517.72,249.50 518.30,249.00 518.88,248.50" fill="none" stroke="#BE332C" stroke-width="1.15"/>
<polyline points="537.30,305.00 537.88,304.50 538.43,304.00 538.92,303.50 539.33,303.00 539.64,302.50 539.83,302.00 539.90,301.50 539.83,301.00 539.64,300.50 539.33,300.00 538.92,299.50 538.43,299.00 537.88,298.50 537.30,298.00 536.72,297.50 536.17,297.00 535.68,296.50 535.27,296.00 534.96,295.50 534.77,295.00 534.70,294.50 534.77,294.00 534.96,293.50 535.27,293.00 535.68,292.50 536.17,292.00 536.72,291.50 537.30,291.00 537.88,290.50 538.43,290.00 538.92,289.50 539.33,289.00 539.64,288.50 539.83,288.00 539.90,287.50 539.83,287.00 539.64,286.50 539.33,286.00 538.92,285.50 538.43,285.00 537.88,284.50 537.30,284.00 536.72,283.50 536.17,283.00 535.68,282.50 535.27,282.00 534.96,281.50 534.77,281.00 534.70,280.50 534.77,280.00 534.96,279.50 535.27,279.00 535.68,278.50 536.17,278.00 536.72,277.50 537.30,277.00 537.88,276.50 538.43,276.00 538.92,275.50 539.33,275.00 539.64,274.50 539.83,274.00 539.90,273.50 539.83,273.00 539.64,272.50 539.33,272.00 538.92,271.50 538.43,271.00 537.88,270.50 537.30,270.00 536.72,269.50 536.17,269.00 535.68,268.50 535.27,268.00" fill="none" stroke="#BE332C" stroke-width="1.15"/>
<linearGradient id="stripg" x1="0" y1="306" x2="0" y2="311" gradientUnits="userSpaceOnUse"><stop offset="0" stop-color="#EE8866"/><stop offset="1" stop-color="#F4A17C"/></linearGradient>
<rect x="93" y="306" width="463" height="5" fill="url(#stripg)"/>
<line x1="93" y1="306.6" x2="556" y2="306.6" stroke="#F29A78" stroke-width="0.9" stroke-dasharray="1.6 1.4"/>
<rect x="93" y="311" width="116" height="21" fill="#BF2830"/>
<rect x="209" y="311" width="116" height="21" fill="#F8AA8C"/>
<rect x="325" y="311" width="232" height="21" fill="#FBD57E"/>
</g>
<text x="151" y="326" font-family='"Liberation Serif", serif' font-size="10.5" font-weight="bold" fill="#FFFFFF" text-anchor="middle" textLength="36" lengthAdjust="spacingAndGlyphs" stroke="#FFFFFF" stroke-width="0.47" stroke-linejoin="round" >Menses</text>
<text x="267.5" y="326" font-family='"Liberation Serif", serif' font-size="10.5" font-weight="bold" fill="#FFFFFF" text-anchor="middle" textLength="90" lengthAdjust="spacingAndGlyphs" stroke="#FFFFFF" stroke-width="0.47" stroke-linejoin="round" >Proliferative Phase</text>
<text x="440" y="326" font-family='"Liberation Serif", serif' font-size="10.5" font-weight="bold" fill="#FFFFFF" text-anchor="middle" textLength="75" lengthAdjust="spacingAndGlyphs" stroke="#FFFFFF" stroke-width="0.47" stroke-linejoin="round" >Secretory Phase</text>
<text x="117.8" y="210.0" font-family='"Liberation Serif", serif' font-size="11" font-weight="bold" fill="#B596C2" text-anchor="start" textLength="66.8" lengthAdjust="spacingAndGlyphs" stroke="#B596C2" stroke-width="0.49" stroke-linejoin="round" >Menstruation</text>
<text x="0" y="0" transform="translate(82.3,305) rotate(-90)" font-family='"Liberation Serif", serif' font-size="13" font-weight="bold" fill="#DD4880" stroke="#DD4880" stroke-width="0.5" textLength="85" lengthAdjust="spacingAndGlyphs">Endometrium</text>
<text x="80.8" y="343.3" font-family='"Liberation Sans", sans-serif' font-size="9" font-weight="bold" fill="#3D7699" text-anchor="start" textLength="25.2" lengthAdjust="spacingAndGlyphs" >0 Days</text>
<text x="310.8" y="343.3" font-family='"Liberation Sans", sans-serif' font-size="9" font-weight="bold" fill="#3D7699" text-anchor="start" textLength="28.4" lengthAdjust="spacingAndGlyphs" >14 Days</text>
<text x="541" y="343.3" font-family='"Liberation Sans", sans-serif' font-size="9" font-weight="bold" fill="#3D7699" text-anchor="start" textLength="30" lengthAdjust="spacingAndGlyphs" >28 Days</text>
<line x1="110" y1="339.5" x2="306" y2="339.5" stroke="#F6A27E" stroke-width="1.1"/>
<path d="M303,337.2 L306.5,339.5 L303,341.8" fill="none" stroke="#F6A27E" stroke-width="1.1"/>
<line x1="342.5" y1="339.5" x2="539" y2="339.5" stroke="#F6A27E" stroke-width="1.1"/>
<path d="M536,337.2 L539.5,339.5 L536,341.8" fill="none" stroke="#F6A27E" stroke-width="1.1"/>
<circle cx="112.9" cy="145.8" r="5.8" fill="#F2886A" stroke="#D45A40" stroke-width="0.9"/>
<circle cx="112.9" cy="145.8" r="3.3" fill="#FCE8A6" stroke="#F7C98A" stroke-width="0.6"/>
<circle cx="112.9" cy="145.8" r="1.7" fill="#5FB8A8"/>
<circle cx="148.5" cy="145.8" r="9.5" fill="#F2886A" stroke="#D45A40" stroke-width="0.9"/>
<circle cx="148.5" cy="145.8" r="4.0" fill="#FCE8A6" stroke="#F7C98A" stroke-width="0.6"/>
<circle cx="148.5" cy="145.8" r="1.9" fill="#5FB8A8"/>
<circle cx="193.4" cy="145.7" r="12.6" fill="#F08A68" stroke="#D45A40" stroke-width="0.9"/>
<path d="M195.16,138.07 A8.0,8.0 0 0 1 200.69,142.39" fill="none" stroke="#FBCFB2" stroke-width="4.3" stroke-linecap="round"/>
<path d="M195.16,138.07 A8.0,8.0 0 0 1 200.69,142.39" fill="none" stroke="#D94A38" stroke-width="2.7" stroke-linecap="round"/>
<path d="M201.38,147.29 A8.0,8.0 0 0 1 198.53,152.12" fill="none" stroke="#FBCFB2" stroke-width="4.3" stroke-linecap="round"/>
<path d="M201.38,147.29 A8.0,8.0 0 0 1 198.53,152.12" fill="none" stroke="#D94A38" stroke-width="2.7" stroke-linecap="round"/>
<path d="M193.92,153.89 A8.0,8.0 0 0 1 186.72,150.14" fill="none" stroke="#FBCFB2" stroke-width="4.3" stroke-linecap="round"/>
<path d="M193.92,153.89 A8.0,8.0 0 0 1 186.72,150.14" fill="none" stroke="#D94A38" stroke-width="2.7" stroke-linecap="round"/>
<path d="M185.52,145.34 A8.0,8.0 0 0 1 190.25,138.59" fill="none" stroke="#FBCFB2" stroke-width="4.3" stroke-linecap="round"/>
<path d="M185.52,145.34 A8.0,8.0 0 0 1 190.25,138.59" fill="none" stroke="#D94A38" stroke-width="2.7" stroke-linecap="round"/>
<circle cx="193.4" cy="145.7" r="3.8" fill="#FCE8A6" stroke="#F7C98A" stroke-width="0.6"/>
<circle cx="193.4" cy="145.7" r="1.9" fill="#5FB8A8"/>
<ellipse cx="235.2" cy="145.9" rx="12" ry="13.8" fill="#F2886A" stroke="#D45A40" stroke-width="0.9"/>
<path d="M225.8,143.3 Q235.2,144.8 244.6,143.3 Q245,155.5 235.2,155.8 Q225.4,155.5 225.8,143.3 Z" fill="#D94A38" stroke="#FBCFB2" stroke-width="1.1"/>
<circle cx="235.2" cy="138.6" r="3.7" fill="#FCE8A6" stroke="#F7C98A" stroke-width="0.6"/>
<circle cx="235.2" cy="138.6" r="1.7" fill="#5FB8A8"/>
<ellipse cx="278.4" cy="145.8" rx="12.4" ry="13.9" fill="#F2886A" stroke="#D45A40" stroke-width="0.9"/>
<path d="M272.8,139.5 A9.6,9.6 0 1 0 284,139.5 L281.7,139.5 A6,6 0 1 1 274.7,139.5 Z" fill="#D94A38" stroke="#FBCFB2" stroke-width="1.1" stroke-linejoin="round"/>
<circle cx="278.2" cy="144.4" r="3.8" fill="#FCE8A6" stroke="#F7C98A" stroke-width="0.6"/>
<circle cx="278.2" cy="144.4" r="1.75" fill="#5FB8A8"/>
<path d="M338.62,147.40 L338.59,147.72 L338.51,148.05 L338.39,148.36 L338.21,148.67 L337.99,148.96 L337.74,149.24 L337.47,149.50 L337.17,149.76 L337.07,150.04 L337.22,150.38 L337.35,150.73 L337.45,151.08 L337.51,151.44 L337.54,151.78 L337.51,152.12 L337.44,152.45 L337.32,152.75 L337.15,153.04 L336.94,153.30 L336.68,153.53 L336.39,153.74 L336.06,153.92 L335.71,154.08 L335.34,154.21 L334.96,154.32 L334.68,154.49 L334.66,154.86 L334.62,155.23 L334.55,155.59 L334.45,155.94 L334.31,156.26 L334.14,156.56 L333.93,156.83 L333.68,157.06 L333.40,157.25 L333.09,157.41 L332.75,157.52 L332.39,157.60 L332.02,157.63 L331.63,157.63 L331.24,157.60 L330.84,157.55 L330.48,157.54 L330.29,157.87 L330.09,158.18 L329.86,158.48 L329.61,158.76 L329.34,159.00 L329.05,159.20 L328.74,159.37 L328.41,159.48 L328.07,159.55 L327.72,159.57 L327.36,159.55 L327.00,159.47 L326.65,159.36 L326.30,159.21 L325.95,159.03 L325.62,158.82 L325.30,158.60 L324.98,158.82 L324.65,159.03 L324.30,159.21 L323.95,159.36 L323.60,159.47 L323.24,159.55 L322.88,159.57 L322.53,159.55 L322.19,159.48 L321.86,159.37 L321.55,159.20 L321.26,159.00 L320.99,158.76 L320.74,158.48 L320.51,158.18 L320.31,157.87 L320.12,157.54 L319.76,157.55 L319.36,157.60 L318.97,157.63 L318.58,157.63 L318.21,157.60 L317.85,157.52 L317.51,157.41 L317.20,157.25 L316.92,157.06 L316.67,156.83 L316.46,156.56 L316.29,156.26 L316.15,155.94 L316.05,155.59 L315.98,155.23 L315.94,154.86 L315.92,154.49 L315.64,154.32 L315.26,154.21 L314.89,154.08 L314.54,153.92 L314.21,153.74 L313.92,153.53 L313.66,153.30 L313.45,153.04 L313.28,152.75 L313.16,152.45 L313.09,152.12 L313.06,151.78 L313.09,151.44 L313.15,151.08 L313.25,150.73 L313.38,150.38 L313.53,150.04 L313.43,149.76 L313.13,149.50 L312.86,149.24 L312.61,148.96 L312.39,148.67 L312.21,148.36 L312.09,148.05 L312.01,147.72 L311.98,147.40 L312.01,147.08 L312.09,146.75 L312.21,146.44 L312.39,146.13 L312.61,145.84 L312.86,145.56 L313.13,145.30 L313.43,145.04 L313.53,144.76 L313.38,144.42 L313.25,144.07 L313.15,143.72 L313.09,143.36 L313.06,143.02 L313.09,142.68 L313.16,142.35 L313.28,142.05 L313.45,141.76 L313.66,141.50 L313.92,141.27 L314.21,141.06 L314.54,140.88 L314.89,140.72 L315.26,140.59 L315.64,140.48 L315.92,140.31 L315.94,139.94 L315.98,139.57 L316.05,139.21 L316.15,138.86 L316.29,138.54 L316.46,138.24 L316.67,137.97 L316.92,137.74 L317.20,137.55 L317.51,137.39 L317.85,137.28 L318.21,137.20 L318.58,137.17 L318.97,137.17 L319.36,137.20 L319.76,137.25 L320.12,137.26 L320.31,136.93 L320.51,136.62 L320.74,136.32 L320.99,136.04 L321.26,135.80 L321.55,135.60 L321.86,135.43 L322.19,135.32 L322.53,135.25 L322.88,135.23 L323.24,135.25 L323.60,135.33 L323.95,135.44 L324.30,135.59 L324.65,135.77 L324.98,135.98 L325.30,136.20 L325.62,135.98 L325.95,135.77 L326.30,135.59 L326.65,135.44 L327.00,135.33 L327.36,135.25 L327.72,135.23 L328.07,135.25 L328.41,135.32 L328.74,135.43 L329.05,135.60 L329.34,135.80 L329.61,136.04 L329.86,136.32 L330.09,136.62 L330.29,136.93 L330.48,137.26 L330.84,137.25 L331.24,137.20 L331.63,137.17 L332.02,137.17 L332.39,137.20 L332.75,137.28 L333.09,137.39 L333.40,137.55 L333.68,137.74 L333.93,137.97 L334.14,138.24 L334.31,138.54 L334.45,138.86 L334.55,139.21 L334.62,139.57 L334.66,139.94 L334.68,140.31 L334.96,140.48 L335.34,140.59 L335.71,140.72 L336.06,140.88 L336.39,141.06 L336.68,141.27 L336.94,141.50 L337.15,141.76 L337.32,142.05 L337.44,142.35 L337.51,142.68 L337.54,143.02 L337.51,143.36 L337.45,143.72 L337.35,144.07 L337.22,144.42 L337.07,144.76 L337.17,145.04 L337.47,145.30 L337.74,145.56 L337.99,145.84 L338.21,146.13 L338.39,146.44 L338.51,146.75 L338.59,147.08 Z" fill="#F2886A" stroke="#D45A40" stroke-width="0.8"/>
<path d="M335.79,147.40 L335.77,147.65 L335.71,147.90 L335.62,148.15 L335.50,148.38 L335.36,148.62 L335.19,148.84 L335.01,149.05 L334.96,149.28 L335.04,149.55 L335.10,149.81 L335.14,150.08 L335.15,150.34 L335.13,150.60 L335.08,150.85 L334.99,151.09 L334.87,151.31 L334.71,151.52 L334.53,151.72 L334.32,151.90 L334.08,152.06 L333.84,152.20 L333.58,152.34 L333.44,152.53 L333.40,152.80 L333.35,153.07 L333.27,153.33 L333.17,153.58 L333.05,153.81 L332.90,154.02 L332.71,154.21 L332.51,154.38 L332.28,154.52 L332.03,154.63 L331.76,154.72 L331.47,154.79 L331.18,154.84 L330.89,154.87 L330.68,155.00 L330.53,155.24 L330.37,155.47 L330.20,155.68 L330.00,155.87 L329.79,156.04 L329.56,156.18 L329.31,156.30 L329.05,156.38 L328.78,156.43 L328.50,156.44 L328.21,156.43 L327.93,156.40 L327.64,156.34 L327.35,156.27 L327.10,156.31 L326.87,156.48 L326.62,156.64 L326.37,156.77 L326.11,156.88 L325.85,156.96 L325.57,157.01 L325.30,157.03 L325.03,157.01 L324.75,156.96 L324.49,156.88 L324.23,156.77 L323.98,156.64 L323.73,156.48 L323.50,156.31 L323.25,156.27 L322.96,156.34 L322.67,156.40 L322.39,156.43 L322.10,156.44 L321.82,156.43 L321.55,156.38 L321.29,156.30 L321.04,156.18 L320.81,156.04 L320.60,155.87 L320.40,155.68 L320.23,155.47 L320.07,155.24 L319.92,155.00 L319.71,154.87 L319.42,154.84 L319.13,154.79 L318.84,154.72 L318.57,154.63 L318.32,154.52 L318.09,154.38 L317.89,154.21 L317.70,154.02 L317.55,153.81 L317.43,153.58 L317.33,153.33 L317.25,153.07 L317.20,152.80 L317.16,152.53 L317.02,152.34 L316.76,152.20 L316.52,152.06 L316.28,151.90 L316.07,151.72 L315.89,151.52 L315.73,151.31 L315.61,151.09 L315.52,150.85 L315.47,150.60 L315.45,150.34 L315.46,150.08 L315.50,149.81 L315.56,149.55 L315.64,149.28 L315.59,149.05 L315.41,148.84 L315.24,148.62 L315.10,148.38 L314.98,148.15 L314.89,147.90 L314.83,147.65 L314.81,147.40 L314.83,147.15 L314.89,146.90 L314.98,146.65 L315.10,146.42 L315.24,146.18 L315.41,145.96 L315.59,145.75 L315.64,145.52 L315.56,145.25 L315.50,144.99 L315.46,144.72 L315.45,144.46 L315.47,144.20 L315.52,143.95 L315.61,143.71 L315.73,143.49 L315.89,143.28 L316.07,143.08 L316.28,142.90 L316.52,142.74 L316.76,142.60 L317.02,142.46 L317.16,142.27 L317.20,142.00 L317.25,141.73 L317.33,141.47 L317.43,141.22 L317.55,140.99 L317.70,140.78 L317.89,140.59 L318.09,140.42 L318.32,140.28 L318.57,140.17 L318.84,140.08 L319.13,140.01 L319.42,139.96 L319.71,139.93 L319.92,139.80 L320.07,139.56 L320.23,139.33 L320.40,139.12 L320.60,138.93 L320.81,138.76 L321.04,138.62 L321.29,138.50 L321.55,138.42 L321.82,138.37 L322.10,138.36 L322.39,138.37 L322.67,138.40 L322.96,138.46 L323.25,138.53 L323.50,138.49 L323.73,138.32 L323.98,138.16 L324.23,138.03 L324.49,137.92 L324.75,137.84 L325.03,137.79 L325.30,137.77 L325.57,137.79 L325.85,137.84 L326.11,137.92 L326.37,138.03 L326.62,138.16 L326.87,138.32 L327.10,138.49 L327.35,138.53 L327.64,138.46 L327.93,138.40 L328.21,138.37 L328.50,138.36 L328.78,138.37 L329.05,138.42 L329.31,138.50 L329.56,138.62 L329.79,138.76 L330.00,138.93 L330.20,139.12 L330.37,139.33 L330.53,139.56 L330.68,139.80 L330.89,139.93 L331.18,139.96 L331.47,140.01 L331.76,140.08 L332.03,140.17 L332.28,140.28 L332.51,140.42 L332.71,140.59 L332.90,140.78 L333.05,140.99 L333.17,141.22 L333.27,141.47 L333.35,141.73 L333.40,142.00 L333.44,142.27 L333.58,142.46 L333.84,142.60 L334.08,142.74 L334.32,142.90 L334.53,143.08 L334.71,143.28 L334.87,143.49 L334.99,143.71 L335.08,143.95 L335.13,144.20 L335.15,144.46 L335.14,144.72 L335.10,144.99 L335.04,145.25 L334.96,145.52 L335.01,145.75 L335.19,145.96 L335.36,146.18 L335.50,146.42 L335.62,146.65 L335.71,146.90 L335.77,147.15 Z" fill="#F9BEA2"/>
<rect x="319.8" y="132" width="5.2" height="6.5" fill="#FEE4DB"/><rect x="325" y="132" width="5.8" height="6.5" fill="#FEF2DC"/>
<path d="M317.3,139.5 Q318.8,136.6 321.3,137.8 L323,140.2 Q325.3,141.6 327.6,140.2 L329.3,137.8 Q331.8,136.6 333.3,139.5 Q334.2,148.5 331,152.8 Q325.3,156.6 319.6,152.8 Q316.4,148.5 317.3,139.5 Z" fill="#D94A38"/>
<path d="M332.28,127.00 L332.27,127.19 L332.24,127.38 L332.20,127.57 L332.14,127.75 L332.06,127.93 L331.96,128.10 L331.86,128.27 L331.74,128.43 L331.61,128.59 L331.47,128.73 L331.33,128.88 L331.18,129.01 L331.22,129.20 L331.26,129.40 L331.28,129.60 L331.29,129.80 L331.30,130.00 L331.28,130.20 L331.26,130.40 L331.21,130.59 L331.16,130.77 L331.08,130.95 L330.99,131.12 L330.89,131.28 L330.77,131.43 L330.64,131.56 L330.49,131.69 L330.33,131.80 L330.16,131.90 L329.99,131.99 L329.80,132.06 L329.61,132.12 L329.42,132.17 L329.22,132.21 L329.02,132.24 L328.82,132.26 L328.74,132.44 L328.65,132.62 L328.55,132.80 L328.44,132.97 L328.33,133.13 L328.20,133.28 L328.06,133.43 L327.92,133.56 L327.76,133.67 L327.60,133.77 L327.43,133.86 L327.25,133.92 L327.07,133.97 L326.88,134.01 L326.69,134.02 L326.49,134.02 L326.30,134.00 L326.10,133.96 L325.91,133.92 L325.72,133.85 L325.53,133.78 L325.35,133.69 L325.17,133.60 L325.00,133.50 L324.83,133.60 L324.65,133.69 L324.47,133.78 L324.28,133.85 L324.09,133.92 L323.90,133.96 L323.70,134.00 L323.51,134.02 L323.31,134.02 L323.12,134.01 L322.93,133.97 L322.75,133.92 L322.57,133.86 L322.40,133.77 L322.24,133.67 L322.08,133.56 L321.94,133.43 L321.80,133.28 L321.67,133.13 L321.56,132.97 L321.45,132.80 L321.35,132.62 L321.26,132.44 L321.18,132.26 L320.98,132.24 L320.78,132.21 L320.58,132.17 L320.39,132.12 L320.20,132.06 L320.01,131.99 L319.84,131.90 L319.67,131.80 L319.51,131.69 L319.36,131.56 L319.23,131.43 L319.11,131.28 L319.01,131.12 L318.92,130.95 L318.84,130.77 L318.79,130.59 L318.74,130.40 L318.72,130.20 L318.70,130.00 L318.71,129.80 L318.72,129.60 L318.74,129.40 L318.78,129.20 L318.82,129.01 L318.67,128.88 L318.53,128.73 L318.39,128.59 L318.26,128.43 L318.14,128.27 L318.04,128.10 L317.94,127.93 L317.86,127.75 L317.80,127.57 L317.76,127.38 L317.73,127.19 L317.72,127.00 L317.73,126.81 L317.76,126.62 L317.80,126.43 L317.86,126.25 L317.94,126.07 L318.04,125.90 L318.14,125.73 L318.26,125.57 L318.39,125.41 L318.53,125.27 L318.67,125.12 L318.82,124.99 L318.78,124.80 L318.74,124.60 L318.72,124.40 L318.71,124.20 L318.70,124.00 L318.72,123.80 L318.74,123.60 L318.79,123.41 L318.84,123.23 L318.92,123.05 L319.01,122.88 L319.11,122.72 L319.23,122.57 L319.36,122.44 L319.51,122.31 L319.67,122.20 L319.84,122.10 L320.01,122.01 L320.20,121.94 L320.39,121.88 L320.58,121.83 L320.78,121.79 L320.98,121.76 L321.18,121.74 L321.26,121.56 L321.35,121.38 L321.45,121.20 L321.56,121.03 L321.67,120.87 L321.80,120.72 L321.94,120.57 L322.08,120.44 L322.24,120.33 L322.40,120.23 L322.57,120.14 L322.75,120.08 L322.93,120.03 L323.12,119.99 L323.31,119.98 L323.51,119.98 L323.70,120.00 L323.90,120.04 L324.09,120.08 L324.28,120.15 L324.47,120.22 L324.65,120.31 L324.83,120.40 L325.00,120.50 L325.17,120.40 L325.35,120.31 L325.53,120.22 L325.72,120.15 L325.91,120.08 L326.10,120.04 L326.30,120.00 L326.49,119.98 L326.69,119.98 L326.88,119.99 L327.07,120.03 L327.25,120.08 L327.43,120.14 L327.60,120.23 L327.76,120.33 L327.92,120.44 L328.06,120.57 L328.20,120.72 L328.33,120.87 L328.44,121.03 L328.55,121.20 L328.65,121.38 L328.74,121.56 L328.82,121.74 L329.02,121.76 L329.22,121.79 L329.42,121.83 L329.61,121.88 L329.80,121.94 L329.99,122.01 L330.16,122.10 L330.33,122.20 L330.49,122.31 L330.64,122.44 L330.77,122.57 L330.89,122.72 L330.99,122.88 L331.08,123.05 L331.16,123.23 L331.21,123.41 L331.26,123.60 L331.28,123.80 L331.30,124.00 L331.29,124.20 L331.28,124.40 L331.26,124.60 L331.22,124.80 L331.18,124.99 L331.33,125.12 L331.47,125.27 L331.61,125.41 L331.74,125.57 L331.86,125.73 L331.96,125.90 L332.06,126.07 L332.14,126.25 L332.20,126.43 L332.24,126.62 L332.27,126.81 Z" fill="#F2886A" stroke="#D45A40" stroke-width="0.8"/>
<circle cx="325" cy="127" r="4.3" fill="#F7B48E"/>
<circle cx="325" cy="127" r="3.4" fill="#FCE8A6" stroke="#F7C98A" stroke-width="0.6"/>
<circle cx="325" cy="127" r="1.6" fill="#5FB8A8"/>
<text x="344" y="114" font-family='"Liberation Serif", serif' font-size="8.5" font-weight="bold" fill="#C9503C" text-anchor="start" textLength="14" lengthAdjust="spacingAndGlyphs" stroke="#C9503C" stroke-width="0.27" stroke-linejoin="round" >Egg</text>
<line x1="343.3" y1="113.3" x2="335.5" y2="119.6" stroke="#3A7CA5" stroke-width="1.4"/>
<path d="M333.6,121.2 L335.2,116.9 L337.7,119.9 Z" fill="#3A7CA5"/>
<text x="296" y="180.3" font-family='"Liberation Serif", serif' font-size="13" font-weight="bold" fill="#CF4B3B" text-anchor="start" textLength="57.5" lengthAdjust="spacingAndGlyphs" stroke="#CF4B3B" stroke-width="0.58" stroke-linejoin="round" >Ovulation</text>
<path d="M389.60,143.70 L389.59,144.08 L389.55,144.46 L389.49,144.84 L389.41,145.21 L389.31,145.58 L389.18,145.94 L389.04,146.29 L388.88,146.63 L388.70,146.97 L388.52,147.29 L388.32,147.60 L388.11,147.90 L388.12,148.28 L388.12,148.67 L388.10,149.05 L388.07,149.44 L388.03,149.82 L387.96,150.20 L387.87,150.58 L387.77,150.94 L387.64,151.30 L387.49,151.64 L387.32,151.98 L387.14,152.29 L386.93,152.59 L386.70,152.88 L386.46,153.14 L386.20,153.39 L385.92,153.62 L385.64,153.83 L385.34,154.02 L385.03,154.19 L384.72,154.34 L384.40,154.47 L384.08,154.60 L383.75,154.70 L383.56,155.02 L383.36,155.33 L383.15,155.63 L382.93,155.92 L382.69,156.20 L382.44,156.46 L382.17,156.71 L381.90,156.93 L381.61,157.14 L381.31,157.32 L381.00,157.47 L380.69,157.60 L380.36,157.71 L380.03,157.79 L379.70,157.84 L379.36,157.87 L379.02,157.87 L378.68,157.84 L378.34,157.80 L378.00,157.73 L377.67,157.65 L377.34,157.54 L377.02,157.43 L376.70,157.30 L376.38,157.43 L376.06,157.54 L375.73,157.65 L375.40,157.73 L375.06,157.80 L374.72,157.84 L374.38,157.87 L374.04,157.87 L373.70,157.84 L373.37,157.79 L373.04,157.71 L372.71,157.60 L372.40,157.47 L372.09,157.32 L371.79,157.14 L371.50,156.93 L371.23,156.71 L370.96,156.46 L370.71,156.20 L370.47,155.92 L370.25,155.63 L370.04,155.33 L369.84,155.02 L369.65,154.70 L369.32,154.60 L369.00,154.47 L368.68,154.34 L368.37,154.19 L368.06,154.02 L367.76,153.83 L367.48,153.62 L367.20,153.39 L366.94,153.14 L366.70,152.88 L366.47,152.59 L366.26,152.29 L366.08,151.98 L365.91,151.64 L365.76,151.30 L365.63,150.94 L365.53,150.58 L365.44,150.20 L365.37,149.82 L365.33,149.44 L365.30,149.05 L365.28,148.67 L365.28,148.28 L365.29,147.90 L365.08,147.60 L364.88,147.29 L364.70,146.97 L364.52,146.63 L364.36,146.29 L364.22,145.94 L364.09,145.58 L363.99,145.21 L363.91,144.84 L363.85,144.46 L363.81,144.08 L363.80,143.70 L363.81,143.32 L363.85,142.94 L363.91,142.56 L363.99,142.19 L364.09,141.82 L364.22,141.46 L364.36,141.11 L364.52,140.77 L364.70,140.43 L364.88,140.11 L365.08,139.80 L365.29,139.50 L365.28,139.12 L365.28,138.73 L365.30,138.35 L365.33,137.96 L365.37,137.58 L365.44,137.20 L365.53,136.82 L365.63,136.46 L365.76,136.10 L365.91,135.76 L366.08,135.42 L366.26,135.11 L366.47,134.81 L366.70,134.52 L366.94,134.26 L367.20,134.01 L367.48,133.78 L367.76,133.57 L368.06,133.38 L368.37,133.21 L368.68,133.06 L369.00,132.93 L369.32,132.80 L369.65,132.70 L369.84,132.38 L370.04,132.07 L370.25,131.77 L370.47,131.48 L370.71,131.20 L370.96,130.94 L371.23,130.69 L371.50,130.47 L371.79,130.26 L372.09,130.08 L372.40,129.93 L372.71,129.80 L373.04,129.69 L373.37,129.61 L373.70,129.56 L374.04,129.53 L374.38,129.53 L374.72,129.56 L375.06,129.60 L375.40,129.67 L375.73,129.75 L376.06,129.86 L376.38,129.97 L376.70,130.10 L377.02,129.97 L377.34,129.86 L377.67,129.75 L378.00,129.67 L378.34,129.60 L378.68,129.56 L379.02,129.53 L379.36,129.53 L379.70,129.56 L380.03,129.61 L380.36,129.69 L380.69,129.80 L381.00,129.93 L381.31,130.08 L381.61,130.26 L381.90,130.47 L382.17,130.69 L382.44,130.94 L382.69,131.20 L382.93,131.48 L383.15,131.77 L383.36,132.07 L383.56,132.38 L383.75,132.70 L384.08,132.80 L384.40,132.93 L384.72,133.06 L385.03,133.21 L385.34,133.38 L385.64,133.57 L385.92,133.78 L386.20,134.01 L386.46,134.26 L386.70,134.52 L386.93,134.81 L387.14,135.11 L387.32,135.42 L387.49,135.76 L387.64,136.10 L387.77,136.46 L387.87,136.82 L387.96,137.20 L388.03,137.58 L388.07,137.96 L388.10,138.35 L388.12,138.73 L388.12,139.12 L388.11,139.50 L388.32,139.80 L388.52,140.11 L388.70,140.43 L388.88,140.77 L389.04,141.11 L389.18,141.46 L389.31,141.82 L389.41,142.19 L389.49,142.56 L389.55,142.94 L389.59,143.32 Z" fill="#FBD272" stroke="#EFA238" stroke-width="1.3"/>
<ellipse cx="377" cy="144" rx="4.5" ry="5.5" fill="#F5A082" stroke="#EFA238" stroke-width="1.0"/>
<path d="M370.5,135.2 Q368.6,136.5 369.2,138.6" fill="none" stroke="#EFA238" stroke-width="0.9" stroke-linecap="round"/>
<path d="M383.6,141.2 Q385.2,139.6 386.9,141.8" fill="none" stroke="#EFA238" stroke-width="0.9" stroke-linecap="round"/>
<path d="M380.8,137.8 Q382.3,137.2 382.1,135.8" fill="none" stroke="#EFA238" stroke-width="0.9" stroke-linecap="round"/>
<path d="M372.5,150.5 Q373.5,152 372,153" fill="none" stroke="#EFA238" stroke-width="0.9" stroke-linecap="round"/>
<path d="M449.37,143.60 L449.35,144.17 L449.29,144.73 L449.18,145.29 L449.04,145.84 L448.87,146.39 L448.66,146.91 L448.42,147.43 L448.16,147.93 L447.88,148.41 L447.59,148.88 L447.63,149.45 L447.66,150.03 L447.67,150.61 L447.65,151.19 L447.59,151.77 L447.51,152.33 L447.39,152.89 L447.23,153.43 L447.03,153.96 L446.80,154.46 L446.53,154.94 L446.23,155.40 L445.89,155.82 L445.53,156.22 L445.14,156.59 L444.72,156.93 L444.29,157.24 L443.85,157.52 L443.39,157.79 L442.93,158.02 L442.72,158.55 L442.49,159.06 L442.24,159.57 L441.96,160.06 L441.66,160.53 L441.34,160.97 L440.99,161.39 L440.61,161.77 L440.21,162.11 L439.78,162.42 L439.34,162.68 L438.88,162.90 L438.40,163.08 L437.91,163.22 L437.40,163.31 L436.90,163.37 L436.39,163.40 L435.87,163.39 L435.36,163.36 L434.86,163.30 L434.44,163.64 L434.02,163.96 L433.58,164.25 L433.12,164.52 L432.66,164.76 L432.18,164.96 L431.69,165.11 L431.20,165.23 L430.70,165.30 L430.20,165.33 L429.70,165.30 L429.20,165.23 L428.71,165.11 L428.22,164.96 L427.74,164.76 L427.28,164.52 L426.82,164.25 L426.38,163.96 L425.96,163.64 L425.54,163.30 L425.04,163.36 L424.53,163.39 L424.01,163.40 L423.50,163.37 L423.00,163.31 L422.49,163.22 L422.00,163.08 L421.52,162.90 L421.06,162.68 L420.62,162.42 L420.19,162.11 L419.79,161.77 L419.41,161.39 L419.06,160.97 L418.74,160.53 L418.44,160.06 L418.16,159.57 L417.91,159.06 L417.68,158.55 L417.47,158.02 L417.01,157.79 L416.55,157.52 L416.11,157.24 L415.68,156.93 L415.26,156.59 L414.87,156.22 L414.51,155.82 L414.17,155.40 L413.87,154.94 L413.60,154.46 L413.37,153.96 L413.17,153.43 L413.01,152.89 L412.89,152.33 L412.81,151.77 L412.75,151.19 L412.73,150.61 L412.74,150.03 L412.77,149.45 L412.81,148.88 L412.52,148.41 L412.24,147.93 L411.98,147.43 L411.74,146.91 L411.53,146.39 L411.36,145.84 L411.22,145.29 L411.11,144.73 L411.05,144.17 L411.03,143.60 L411.05,143.03 L411.11,142.47 L411.22,141.91 L411.36,141.36 L411.53,140.81 L411.74,140.29 L411.98,139.77 L412.24,139.27 L412.52,138.79 L412.81,138.32 L412.77,137.75 L412.74,137.17 L412.73,136.59 L412.75,136.01 L412.81,135.43 L412.89,134.87 L413.01,134.31 L413.17,133.77 L413.37,133.24 L413.60,132.74 L413.87,132.26 L414.17,131.80 L414.51,131.38 L414.87,130.98 L415.26,130.61 L415.68,130.27 L416.11,129.96 L416.55,129.68 L417.01,129.41 L417.47,129.18 L417.68,128.65 L417.91,128.14 L418.16,127.63 L418.44,127.14 L418.74,126.67 L419.06,126.23 L419.41,125.81 L419.79,125.43 L420.19,125.09 L420.62,124.78 L421.06,124.52 L421.52,124.30 L422.00,124.12 L422.49,123.98 L423.00,123.89 L423.50,123.83 L424.01,123.80 L424.53,123.81 L425.04,123.84 L425.54,123.90 L425.96,123.56 L426.38,123.24 L426.82,122.95 L427.28,122.68 L427.74,122.44 L428.22,122.24 L428.71,122.09 L429.20,121.97 L429.70,121.90 L430.20,121.87 L430.70,121.90 L431.20,121.97 L431.69,122.09 L432.18,122.24 L432.66,122.44 L433.12,122.68 L433.58,122.95 L434.02,123.24 L434.44,123.56 L434.86,123.90 L435.36,123.84 L435.87,123.81 L436.39,123.80 L436.90,123.83 L437.40,123.89 L437.91,123.98 L438.40,124.12 L438.88,124.30 L439.34,124.52 L439.78,124.78 L440.21,125.09 L440.61,125.43 L440.99,125.81 L441.34,126.23 L441.66,126.67 L441.96,127.14 L442.24,127.63 L442.49,128.14 L442.72,128.65 L442.93,129.18 L443.39,129.41 L443.85,129.68 L444.29,129.96 L444.72,130.27 L445.14,130.61 L445.53,130.98 L445.89,131.38 L446.23,131.80 L446.53,132.26 L446.80,132.74 L447.03,133.24 L447.23,133.77 L447.39,134.31 L447.51,134.87 L447.59,135.43 L447.65,136.01 L447.67,136.59 L447.66,137.17 L447.63,137.75 L447.59,138.32 L447.88,138.79 L448.16,139.27 L448.42,139.77 L448.66,140.29 L448.87,140.81 L449.04,141.36 L449.18,141.91 L449.29,142.47 L449.35,143.03 Z" fill="#FBD272" stroke="#EFA238" stroke-width="1.3"/>
<circle cx="430.6" cy="144.1" r="4.3" fill="#FCE29A" stroke="#EFA238" stroke-width="0.9"/>
<path d="M420.8,131.8 Q418.2,134.2 422.7,136.7" fill="none" stroke="#EFA238" stroke-width="1.0" stroke-linecap="round"/>
<path d="M437.5,132.3 Q437.5,135.8 433.6,135.7" fill="none" stroke="#EFA238" stroke-width="1.0" stroke-linecap="round"/>
<path d="M440.4,138.7 Q443.5,137.2 444.9,140.2" fill="none" stroke="#EFA238" stroke-width="1.0" stroke-linecap="round"/>
<path d="M422.7,146 Q423,149.8 419.3,150" fill="none" stroke="#EFA238" stroke-width="1.0" stroke-linecap="round"/>
<path d="M433.1,151.5 Q436.5,155.5 440.4,151" fill="none" stroke="#EFA238" stroke-width="1.0" stroke-linecap="round"/>
<circle cx="477.8" cy="139" r="4.8" fill="#EFA238"/>
<circle cx="485.5" cy="138" r="4.9" fill="#EFA238"/>
<circle cx="491" cy="141.5" r="3.9" fill="#EFA238"/>
<circle cx="478.8" cy="147.5" r="4.9" fill="#EFA238"/>
<circle cx="484" cy="153" r="4.5" fill="#EFA238"/>
<circle cx="491.6" cy="150.5" r="5.9" fill="#EFA238"/>
<circle cx="484.5" cy="144" r="5.5" fill="#EFA238"/>
<circle cx="488" cy="147.5" r="5.300000000000001" fill="#EFA238"/>
<circle cx="481.5" cy="142.5" r="4.4" fill="#EFA238"/>
<circle cx="477.8" cy="139" r="3.9" fill="#FBD272"/>
<circle cx="485.5" cy="138" r="4.0" fill="#FBD272"/>
<circle cx="491" cy="141.5" r="3.0" fill="#FBD272"/>
<circle cx="478.8" cy="147.5" r="4.0" fill="#FBD272"/>
<circle cx="484" cy="153" r="3.6" fill="#FBD272"/>
<circle cx="491.6" cy="150.5" r="5.0" fill="#FBD272"/>
<circle cx="484.5" cy="144" r="4.6" fill="#FBD272"/>
<circle cx="488" cy="147.5" r="4.4" fill="#FBD272"/>
<circle cx="481.5" cy="142.5" r="3.5" fill="#FBD272"/>
<circle cx="527.8" cy="143.4" r="4.2" fill="#EFA238"/>
<circle cx="534.3" cy="141.6" r="4.1000000000000005" fill="#EFA238"/>
<circle cx="536.1" cy="147" r="3.8" fill="#EFA238"/>
<circle cx="528.4" cy="148.3" r="3.8" fill="#EFA238"/>
<circle cx="532" cy="149.2" r="3.5" fill="#EFA238"/>
<circle cx="532" cy="145.5" r="3.9" fill="#EFA238"/>
<circle cx="527.8" cy="143.4" r="3.3" fill="#FBD272"/>
<circle cx="534.3" cy="141.6" r="3.2" fill="#FBD272"/>
<circle cx="536.1" cy="147" r="2.9" fill="#FBD272"/>
<circle cx="528.4" cy="148.3" r="2.9" fill="#FBD272"/>
<circle cx="532" cy="149.2" r="2.6" fill="#FBD272"/>
<circle cx="532" cy="145.5" r="3" fill="#FBD272"/>
<path d="M108.8,162.3 Q108.8,173.3 117.89999999999999,173.3 L192.8,173.3 Q199.8,173.3 199.8,183.5 Q199.8,173.3 206.8,173.3 L281.7,173.3 Q290.8,173.3 290.8,162.3" fill="none" stroke="#3C7AA2" stroke-width="1.6" stroke-linejoin="round"/>
<path d="M358.3,162.5 Q358.3,172.7 367.40000000000003,172.7 L400.3,172.7 Q407.3,172.7 407.3,183 Q407.3,172.7 414.3,172.7 L447.2,172.7 Q456.3,172.7 456.3,162.5" fill="none" stroke="#3C7AA2" stroke-width="1.6" stroke-linejoin="round"/>
<path d="M466,163 Q466,173.2 475.1,173.2 L500.0,173.2 Q507.0,173.2 507.0,183.5 Q507.0,173.2 514.0,173.2 L538.9,173.2 Q548,173.2 548,163" fill="none" stroke="#3C7AA2" stroke-width="1.6" stroke-linejoin="round"/>
<text x="200.2" y="194.0" font-family='"Liberation Serif", serif' font-size="8.5" font-weight="bold" fill="#3C7AA2" text-anchor="middle" textLength="57" lengthAdjust="spacingAndGlyphs" stroke="#3C7AA2" stroke-width="0.27" stroke-linejoin="round" >Growing Folicle</text>
<text x="407.3" y="194.0" font-family='"Liberation Serif", serif' font-size="8.5" font-weight="bold" fill="#3C7AA2" text-anchor="middle" textLength="56.5" lengthAdjust="spacingAndGlyphs" stroke="#3C7AA2" stroke-width="0.27" stroke-linejoin="round" >Corpus Luteum</text>
<text x="507" y="194.0" font-family='"Liberation Serif", serif' font-size="8.5" font-weight="bold" fill="#3C7AA2" text-anchor="middle" textLength="59.3" lengthAdjust="spacingAndGlyphs" stroke="#3C7AA2" stroke-width="0.27" stroke-linejoin="round" >Corpus Albicans</text>
<path d="M80.3,386.5 C73.8,385.5 71.8,394 62.8,392.5" fill="none" stroke="#EEC050" stroke-width="3.8" stroke-linecap="round"/>
<path d="M80.3,386.5 C73.8,385.5 71.8,394 62.8,392.5" fill="none" stroke="#F9DA6C" stroke-width="2.6" stroke-linecap="round"/>
<path d="M125.3,386.5 C131.8,385.5 133.8,394 142.8,392.5" fill="none" stroke="#EEC050" stroke-width="3.8" stroke-linecap="round"/>
<path d="M125.3,386.5 C131.8,385.5 133.8,394 142.8,392.5" fill="none" stroke="#F9DA6C" stroke-width="2.6" stroke-linecap="round"/>
<ellipse cx="55.5" cy="386.6" rx="10.6" ry="6.6" transform="rotate(38 55.5 386.6)" fill="#F6A98C" stroke="#D8603F" stroke-width="0.9"/>
<ellipse cx="148.3" cy="387.6" rx="10" ry="6.5" transform="rotate(-40 148.3 387.6)" fill="#FCE192" stroke="#F0BA50" stroke-width="0.9"/>
<path d="M83.09,379.94 L82.14,379.56 L80.80,379.06 L79.27,378.48 L77.70,377.82 L76.27,377.11 L75.14,376.38 L74.24,375.57 L73.39,374.62 L72.60,373.56 L71.86,372.46 L71.18,371.34 L70.57,370.30 L70.10,369.35 L69.74,368.38 L69.42,367.34 L69.08,366.27 L68.64,365.16 L68.01,364.12 L67.27,363.24 L66.47,362.49 L65.62,361.86 L64.74,361.30 L63.85,360.82 L62.89,360.37 L61.81,359.97 L60.68,359.69 L59.59,359.48 L58.56,359.28 L57.65,359.07 L56.91,358.82 L56.32,358.50 L55.74,358.07 L55.09,357.54 L54.34,356.94 L53.41,356.35 L52.33,355.88 L51.18,355.55 L49.98,355.29 L48.72,355.11 L47.44,355.00 L46.16,355.00 L44.95,355.13 L43.83,355.33 L42.72,355.62 L41.60,356.06 L40.51,356.67 L39.48,357.52 L38.59,358.58 L37.82,359.75 L37.18,361.07 L36.67,362.50 L36.28,364.04 L36.05,365.67 L35.97,367.33 L35.93,369.03 L36.03,370.81 L36.28,372.68 L36.69,374.61 L37.29,376.56 L38.15,378.59 L39.27,380.73 L40.63,382.78 L42.02,384.67 L43.30,386.35 L44.24,387.72 L44.76,388.75 L54.84,377.65 L53.62,377.10 L52.08,376.32 L50.45,375.43 L48.86,374.51 L47.48,373.67 L46.45,373.01 L45.69,372.23 L44.92,371.22 L44.22,370.09 L43.60,368.92 L43.07,367.75 L42.63,366.67 L42.41,365.64 L42.29,364.59 L42.27,363.55 L42.33,362.56 L42.46,361.70 L42.61,361.02 L42.85,360.57 L43.19,360.16 L43.65,359.78 L44.23,359.43 L44.92,359.12 L45.65,358.87 L46.45,358.73 L47.38,358.67 L48.40,358.69 L49.45,358.79 L50.44,358.94 L51.27,359.12 L51.88,359.35 L52.45,359.68 L53.07,360.14 L53.79,360.69 L54.65,361.27 L55.69,361.78 L56.81,362.14 L57.93,362.39 L59.01,362.57 L60.03,362.75 L60.93,362.96 L61.71,363.23 L62.47,363.58 L63.23,363.97 L63.92,364.38 L64.54,364.83 L65.10,365.33 L65.59,365.88 L65.97,366.50 L66.30,367.28 L66.61,368.24 L66.97,369.34 L67.43,370.53 L68.03,371.70 L68.72,372.84 L69.45,374.01 L70.28,375.22 L71.21,376.43 L72.26,377.58 L73.46,378.62 L74.91,379.54 L76.56,380.34 L78.26,381.03 L79.85,381.63 L81.18,382.10 L82.11,382.46 Z" fill="#CC5038"/>
<path d="M82.91,380.41 L81.96,380.03 L80.63,379.53 L79.08,378.94 L77.49,378.27 L76.02,377.54 L74.84,376.78 L73.88,375.93 L73.00,374.94 L72.19,373.86 L71.44,372.73 L70.75,371.60 L70.13,370.54 L69.64,369.55 L69.27,368.54 L68.95,367.50 L68.61,366.44 L68.19,365.39 L67.61,364.41 L66.91,363.58 L66.15,362.88 L65.34,362.27 L64.50,361.74 L63.62,361.27 L62.70,360.83 L61.67,360.45 L60.58,360.18 L59.49,359.97 L58.46,359.77 L57.52,359.55 L56.72,359.28 L56.06,358.92 L55.44,358.47 L54.79,357.93 L54.06,357.35 L53.19,356.79 L52.17,356.36 L51.08,356.04 L49.91,355.79 L48.68,355.61 L47.43,355.50 L46.20,355.50 L45.04,355.62 L43.96,355.81 L42.90,356.09 L41.84,356.49 L40.81,357.07 L39.85,357.85 L39.02,358.84 L38.28,359.95 L37.66,361.21 L37.16,362.59 L36.78,364.09 L36.55,365.67 L36.46,367.28 L36.42,368.94 L36.52,370.69 L36.76,372.53 L37.16,374.42 L37.74,376.34 L38.57,378.31 L39.65,380.40 L40.98,382.42 L42.36,384.30 L43.62,385.97 L44.57,387.34 L45.09,388.38 L54.51,378.02 L53.29,377.48 L51.75,376.70 L50.11,375.80 L48.51,374.87 L47.11,374.00 L46.03,373.29 L45.24,372.46 L44.46,371.41 L43.74,370.25 L43.11,369.04 L42.57,367.84 L42.14,366.72 L41.91,365.65 L41.80,364.55 L41.78,363.46 L41.85,362.42 L42.00,361.51 L42.18,360.76 L42.48,360.23 L42.88,359.77 L43.41,359.34 L44.05,358.97 L44.78,358.64 L45.56,358.38 L46.41,358.23 L47.39,358.17 L48.45,358.19 L49.52,358.29 L50.55,358.45 L51.43,358.64 L52.11,358.90 L52.73,359.27 L53.37,359.74 L54.09,360.29 L54.91,360.84 L55.88,361.32 L56.94,361.66 L58.03,361.90 L59.11,362.08 L60.13,362.27 L61.07,362.48 L61.90,362.77 L62.70,363.14 L63.47,363.53 L64.19,363.97 L64.86,364.45 L65.46,364.99 L65.99,365.59 L66.42,366.28 L66.77,367.11 L67.09,368.09 L67.44,369.18 L67.89,370.33 L68.47,371.46 L69.15,372.58 L69.87,373.74 L70.69,374.93 L71.59,376.11 L72.61,377.22 L73.76,378.22 L75.15,379.10 L76.77,379.88 L78.44,380.57 L80.02,381.16 L81.36,381.63 L82.29,381.99 Z" fill="#E56C4A"/>
<polyline points="51.65,357.96 50.71,357.73 49.64,357.54 48.52,357.42 47.40,357.37 46.34,357.41 45.40,357.55 44.54,357.79 43.70,358.10 42.94,358.49 42.26,358.96 41.69,359.52 41.23,360.19 40.88,361.04 40.59,362.06 40.39,363.20 40.29,364.41 40.30,365.65 40.43,366.89 40.73,368.17 41.13,369.54 41.65,370.93 42.27,372.31 42.99,373.62 43.79,374.80 44.87,375.92 46.25,377.13" fill="none" stroke="#F2916A" stroke-width="1.0" stroke-linecap="round" opacity="0.85"/>
<path d="M53.30,378.23 L56.58,381.46 M51.20,380.36 L54.97,384.08 M49.09,382.50 L53.36,386.71 M46.98,384.63 L50.75,388.36 M44.87,386.77 L48.15,390.00" fill="none" stroke="#CC5038" stroke-width="2.3" stroke-linecap="round"/>
<path d="M53.30,378.23 L56.58,381.46 M51.20,380.36 L54.97,384.08 M49.09,382.50 L53.36,386.71 M46.98,384.63 L50.75,388.36 M44.87,386.77 L48.15,390.00" fill="none" stroke="#E56C4A" stroke-width="1.4" stroke-linecap="round"/>
<path d="M37.83,376.51 L38.57,378.31 L39.65,380.40 L40.98,382.42 L42.36,384.30 L43.62,385.97 L44.57,387.34 L45.09,388.38 L54.51,378.02 L53.29,377.48 L51.75,376.70 L50.11,375.80 L48.51,374.87 L47.11,374.00 L46.03,373.29 L45.15,372.28 Z" fill="#E56C4A"/>
<path d="M123.49,382.46 L124.42,382.10 L125.75,381.63 L127.34,381.03 L129.04,380.34 L130.69,379.54 L132.14,378.62 L133.34,377.58 L134.39,376.43 L135.32,375.22 L136.15,374.01 L136.88,372.84 L137.57,371.70 L138.17,370.53 L138.63,369.34 L138.99,368.24 L139.30,367.28 L139.63,366.50 L140.01,365.88 L140.50,365.33 L141.06,364.83 L141.68,364.38 L142.37,363.97 L143.13,363.58 L143.89,363.23 L144.67,362.96 L145.57,362.75 L146.59,362.57 L147.67,362.39 L148.79,362.14 L149.91,361.78 L150.95,361.27 L151.81,360.69 L152.53,360.14 L153.15,359.68 L153.72,359.35 L154.33,359.12 L155.16,358.94 L156.15,358.79 L157.20,358.69 L158.22,358.67 L159.15,358.73 L159.95,358.87 L160.68,359.12 L161.37,359.43 L161.95,359.78 L162.41,360.16 L162.75,360.57 L162.99,361.02 L163.14,361.70 L163.27,362.56 L163.33,363.55 L163.31,364.59 L163.19,365.64 L162.97,366.67 L162.53,367.75 L162.00,368.92 L161.38,370.09 L160.68,371.22 L159.91,372.23 L159.15,373.01 L158.12,373.67 L156.74,374.51 L155.15,375.43 L153.52,376.32 L151.98,377.10 L150.76,377.65 L160.84,388.75 L161.36,387.72 L162.30,386.35 L163.58,384.67 L164.97,382.78 L166.33,380.73 L167.45,378.59 L168.31,376.56 L168.91,374.61 L169.32,372.68 L169.57,370.81 L169.67,369.03 L169.63,367.33 L169.55,365.67 L169.32,364.04 L168.93,362.50 L168.42,361.07 L167.78,359.75 L167.01,358.58 L166.12,357.52 L165.09,356.67 L164.00,356.06 L162.88,355.62 L161.77,355.33 L160.65,355.13 L159.44,355.00 L158.16,355.00 L156.88,355.11 L155.62,355.29 L154.42,355.55 L153.27,355.88 L152.19,356.35 L151.26,356.94 L150.51,357.54 L149.86,358.07 L149.28,358.50 L148.69,358.82 L147.95,359.07 L147.04,359.28 L146.01,359.48 L144.92,359.69 L143.79,359.97 L142.71,360.37 L141.75,360.82 L140.86,361.30 L139.98,361.86 L139.13,362.49 L138.33,363.24 L137.59,364.12 L136.96,365.16 L136.52,366.27 L136.18,367.34 L135.86,368.38 L135.50,369.35 L135.03,370.30 L134.42,371.34 L133.74,372.46 L133.00,373.56 L132.21,374.62 L131.36,375.57 L130.46,376.38 L129.33,377.11 L127.90,377.82 L126.33,378.48 L124.80,379.06 L123.46,379.56 L122.51,379.94 Z" fill="#CC5038"/>
<path d="M123.31,381.99 L124.24,381.63 L125.58,381.16 L127.16,380.57 L128.83,379.88 L130.45,379.10 L131.84,378.22 L132.99,377.22 L134.01,376.11 L134.91,374.93 L135.73,373.74 L136.45,372.58 L137.13,371.46 L137.71,370.33 L138.16,369.18 L138.51,368.09 L138.83,367.11 L139.18,366.28 L139.61,365.59 L140.14,364.99 L140.74,364.45 L141.41,363.97 L142.13,363.53 L142.90,363.14 L143.70,362.77 L144.53,362.48 L145.47,362.27 L146.49,362.08 L147.57,361.90 L148.66,361.66 L149.72,361.32 L150.69,360.84 L151.51,360.29 L152.23,359.74 L152.87,359.27 L153.49,358.90 L154.17,358.64 L155.05,358.45 L156.08,358.29 L157.15,358.19 L158.21,358.17 L159.19,358.23 L160.04,358.38 L160.82,358.64 L161.55,358.97 L162.19,359.34 L162.72,359.77 L163.12,360.23 L163.42,360.76 L163.60,361.51 L163.75,362.42 L163.82,363.46 L163.80,364.55 L163.69,365.65 L163.46,366.72 L163.03,367.84 L162.49,369.04 L161.86,370.25 L161.14,371.41 L160.36,372.46 L159.57,373.29 L158.49,374.00 L157.09,374.87 L155.49,375.80 L153.85,376.70 L152.31,377.48 L151.09,378.02 L160.51,388.38 L161.03,387.34 L161.98,385.97 L163.24,384.30 L164.62,382.42 L165.95,380.40 L167.03,378.31 L167.86,376.34 L168.44,374.42 L168.84,372.53 L169.08,370.69 L169.18,368.94 L169.14,367.28 L169.05,365.67 L168.82,364.09 L168.44,362.59 L167.94,361.21 L167.32,359.95 L166.58,358.84 L165.75,357.85 L164.79,357.07 L163.76,356.49 L162.70,356.09 L161.64,355.81 L160.56,355.62 L159.40,355.50 L158.17,355.50 L156.92,355.61 L155.69,355.79 L154.52,356.04 L153.43,356.36 L152.41,356.79 L151.54,357.35 L150.81,357.93 L150.16,358.47 L149.54,358.92 L148.88,359.28 L148.08,359.55 L147.14,359.77 L146.11,359.97 L145.02,360.18 L143.93,360.45 L142.90,360.83 L141.98,361.27 L141.10,361.74 L140.26,362.27 L139.45,362.88 L138.69,363.58 L137.99,364.41 L137.41,365.39 L136.99,366.44 L136.65,367.50 L136.33,368.54 L135.96,369.55 L135.47,370.54 L134.85,371.60 L134.16,372.73 L133.41,373.86 L132.60,374.94 L131.72,375.93 L130.76,376.78 L129.58,377.54 L128.11,378.27 L126.52,378.94 L124.97,379.53 L123.64,380.03 L122.69,380.41 Z" fill="#E56C4A"/>
<polyline points="153.95,357.96 154.89,357.73 155.96,357.54 157.08,357.42 158.20,357.37 159.26,357.41 160.20,357.55 161.06,357.79 161.90,358.10 162.66,358.49 163.34,358.96 163.91,359.52 164.37,360.19 164.72,361.04 165.01,362.06 165.21,363.20 165.31,364.41 165.30,365.65 165.17,366.89 164.87,368.17 164.47,369.54 163.95,370.93 163.33,372.31 162.61,373.62 161.81,374.80 160.73,375.92 159.35,377.13" fill="none" stroke="#F2916A" stroke-width="1.0" stroke-linecap="round" opacity="0.85"/>
<path d="M160.73,386.77 L157.45,390.00 M158.62,384.63 L154.85,388.36 M156.51,382.50 L152.24,386.71 M154.40,380.36 L150.63,384.08 M152.30,378.23 L149.02,381.46" fill="none" stroke="#CC5038" stroke-width="2.3" stroke-linecap="round"/>
<path d="M160.73,386.77 L157.45,390.00 M158.62,384.63 L154.85,388.36 M156.51,382.50 L152.24,386.71 M154.40,380.36 L150.63,384.08 M152.30,378.23 L149.02,381.46" fill="none" stroke="#E56C4A" stroke-width="1.4" stroke-linecap="round"/>
<path d="M160.45,372.28 L159.57,373.29 L158.49,374.00 L157.09,374.87 L155.49,375.80 L153.85,376.70 L152.31,377.48 L151.09,378.02 L160.51,388.38 L161.03,387.34 L161.98,385.97 L163.24,384.30 L164.62,382.42 L165.95,380.40 L167.03,378.31 L167.77,376.51 Z" fill="#E56C4A"/>
<path d="M102.8,366.5 C115.8,366.5 125.6,371.5 125.6,380 C125.6,388 124.8,393 122.3,400 C119.8,407 116.6,414 114.6,419 C113.39999999999999,422 112.89999999999999,424 113.0,426 C113.6,430 113.7,440 113.39999999999999,448 C113.1,453 112.39999999999999,457 112.2,459 Q111.89999999999999,462.5 107.8,462.5 L97.8,462.5 Q93.7,462.5 93.39999999999999,459 C93.2,457 92.5,453 92.2,448 C91.89999999999999,440 92.0,430 92.6,426 C92.7,424 92.2,422 91.0,419 C89.0,414 85.8,407 83.3,400 C80.8,393 80.0,388 80.0,380 C80.0,371.5 89.8,366.5 102.8,366.5 Z" fill="#F7A585" stroke="#D8603F" stroke-width="0.9"/>
<path d="M86.3,375.5 Q93.8,370 103.8,369.8" fill="none" stroke="#FCD6C4" stroke-width="0.9"/>
<path d="M95.2,423.9 Q98.8,427.8 102.8,428 Q106.8,427.8 110.39999999999999,423.9" fill="none" stroke="#D04A38" stroke-width="0.9"/>
<path d="M95.6,425 C96.6,436 96.0,448 96.8,460" fill="none" stroke="#D8603F" stroke-width="0.7"/>
<path d="M110.0,425 C109.0,436 109.6,448 108.8,460" fill="none" stroke="#D8603F" stroke-width="0.7"/>
<path d="M84.0,380.8 Q102.8,383.5 121.6,380.8 C114.8,386 108.0,393 107.1,402 L104.6,424 L101.0,424 L98.5,402 C97.6,393 90.8,386 84.0,380.8 Z" fill="#DA2D30"/>
<path d="M91.3,385.8 Q102.8,387.8 114.3,385.8 C109.3,390 105.2,395.5 104.39999999999999,402 L103.2,420 L102.39999999999999,420 L101.2,402 C100.39999999999999,395.5 96.3,390 91.3,385.8 Z" fill="#F4A080" stroke="#DA2D30" stroke-width="2.2" stroke-dasharray="2 1.6"/>
<path d="M102.8,425.59999999999997 L104.7,428.3 Q104.7,430.09999999999997 102.8,430.09999999999997 Q100.89999999999999,430.09999999999997 100.89999999999999,428.3 Z" fill="#DA2D30"/>
<path d="M102.8,436.79999999999995 L104.7,439.5 Q104.7,441.29999999999995 102.8,441.29999999999995 Q100.89999999999999,441.29999999999995 100.89999999999999,439.5 Z" fill="#DA2D30"/>
<path d="M102.8,446.29999999999995 L104.7,449.0 Q104.7,450.79999999999995 102.8,450.79999999999995 Q100.89999999999999,450.79999999999995 100.89999999999999,449.0 Z" fill="#DA2D30"/>
<path d="M79.3,379.8 Q102.8,383.5 126.3,379.8" fill="none" stroke="#D44A38" stroke-width="1.4"/>
<path d="M228.7,386.5 C222.2,385.5 220.2,394 211.2,392.5" fill="none" stroke="#EEC050" stroke-width="3.8" stroke-linecap="round"/>
<path d="M228.7,386.5 C222.2,385.5 220.2,394 211.2,392.5" fill="none" stroke="#F9DA6C" stroke-width="2.6" stroke-linecap="round"/>
<path d="M273.7,386.5 C280.2,385.5 282.2,394 291.2,392.5" fill="none" stroke="#EEC050" stroke-width="3.8" stroke-linecap="round"/>
<path d="M273.7,386.5 C280.2,385.5 282.2,394 291.2,392.5" fill="none" stroke="#F9DA6C" stroke-width="2.6" stroke-linecap="round"/>
<ellipse cx="203.9" cy="386.6" rx="10.6" ry="6.6" transform="rotate(38 203.9 386.6)" fill="#F6A98C" stroke="#D8603F" stroke-width="0.9"/>
<ellipse cx="296.7" cy="387.6" rx="10" ry="6.5" transform="rotate(-40 296.7 387.6)" fill="#FCE192" stroke="#F0BA50" stroke-width="0.9"/>
<path d="M231.49,379.94 L230.54,379.56 L229.20,379.06 L227.67,378.48 L226.10,377.82 L224.67,377.11 L223.54,376.38 L222.64,375.57 L221.79,374.62 L221.00,373.56 L220.26,372.46 L219.58,371.34 L218.97,370.30 L218.50,369.35 L218.14,368.38 L217.82,367.34 L217.48,366.27 L217.04,365.16 L216.41,364.12 L215.67,363.24 L214.87,362.49 L214.02,361.86 L213.14,361.30 L212.25,360.82 L211.29,360.37 L210.21,359.97 L209.08,359.69 L207.99,359.48 L206.96,359.28 L206.05,359.07 L205.31,358.82 L204.72,358.50 L204.14,358.07 L203.49,357.54 L202.74,356.94 L201.81,356.35 L200.73,355.88 L199.58,355.55 L198.38,355.29 L197.12,355.11 L195.84,355.00 L194.56,355.00 L193.35,355.13 L192.23,355.33 L191.12,355.62 L190.00,356.06 L188.91,356.67 L187.88,357.52 L186.99,358.58 L186.22,359.75 L185.58,361.07 L185.07,362.50 L184.68,364.04 L184.45,365.67 L184.37,367.33 L184.33,369.03 L184.43,370.81 L184.68,372.68 L185.09,374.61 L185.69,376.56 L186.55,378.59 L187.67,380.73 L189.03,382.78 L190.42,384.67 L191.70,386.35 L192.64,387.72 L193.16,388.75 L203.24,377.65 L202.02,377.10 L200.48,376.32 L198.85,375.43 L197.26,374.51 L195.88,373.67 L194.85,373.01 L194.09,372.23 L193.32,371.22 L192.62,370.09 L192.00,368.92 L191.47,367.75 L191.03,366.67 L190.81,365.64 L190.69,364.59 L190.67,363.55 L190.73,362.56 L190.86,361.70 L191.01,361.02 L191.25,360.57 L191.59,360.16 L192.05,359.78 L192.63,359.43 L193.32,359.12 L194.05,358.87 L194.85,358.73 L195.78,358.67 L196.80,358.69 L197.85,358.79 L198.84,358.94 L199.67,359.12 L200.28,359.35 L200.85,359.68 L201.47,360.14 L202.19,360.69 L203.05,361.27 L204.09,361.78 L205.21,362.14 L206.33,362.39 L207.41,362.57 L208.43,362.75 L209.33,362.96 L210.11,363.23 L210.87,363.58 L211.63,363.97 L212.32,364.38 L212.94,364.83 L213.50,365.33 L213.99,365.88 L214.37,366.50 L214.70,367.28 L215.01,368.24 L215.37,369.34 L215.83,370.53 L216.43,371.70 L217.12,372.84 L217.85,374.01 L218.68,375.22 L219.61,376.43 L220.66,377.58 L221.86,378.62 L223.31,379.54 L224.96,380.34 L226.66,381.03 L228.25,381.63 L229.58,382.10 L230.51,382.46 Z" fill="#CC5038"/>
<path d="M231.31,380.41 L230.36,380.03 L229.03,379.53 L227.48,378.94 L225.89,378.27 L224.42,377.54 L223.24,376.78 L222.28,375.93 L221.40,374.94 L220.59,373.86 L219.84,372.73 L219.15,371.60 L218.53,370.54 L218.04,369.55 L217.67,368.54 L217.35,367.50 L217.01,366.44 L216.59,365.39 L216.01,364.41 L215.31,363.58 L214.55,362.88 L213.74,362.27 L212.90,361.74 L212.02,361.27 L211.10,360.83 L210.07,360.45 L208.98,360.18 L207.89,359.97 L206.86,359.77 L205.92,359.55 L205.12,359.28 L204.46,358.92 L203.84,358.47 L203.19,357.93 L202.46,357.35 L201.59,356.79 L200.57,356.36 L199.48,356.04 L198.31,355.79 L197.08,355.61 L195.83,355.50 L194.60,355.50 L193.44,355.62 L192.36,355.81 L191.30,356.09 L190.24,356.49 L189.21,357.07 L188.25,357.85 L187.42,358.84 L186.68,359.95 L186.06,361.21 L185.56,362.59 L185.18,364.09 L184.95,365.67 L184.86,367.28 L184.82,368.94 L184.92,370.69 L185.16,372.53 L185.56,374.42 L186.14,376.34 L186.97,378.31 L188.05,380.40 L189.38,382.42 L190.76,384.30 L192.02,385.97 L192.97,387.34 L193.49,388.38 L202.91,378.02 L201.69,377.48 L200.15,376.70 L198.51,375.80 L196.91,374.87 L195.51,374.00 L194.43,373.29 L193.64,372.46 L192.86,371.41 L192.14,370.25 L191.51,369.04 L190.97,367.84 L190.54,366.72 L190.31,365.65 L190.20,364.55 L190.18,363.46 L190.25,362.42 L190.40,361.51 L190.58,360.76 L190.88,360.23 L191.28,359.77 L191.81,359.34 L192.45,358.97 L193.18,358.64 L193.96,358.38 L194.81,358.23 L195.79,358.17 L196.85,358.19 L197.92,358.29 L198.95,358.45 L199.83,358.64 L200.51,358.90 L201.13,359.27 L201.77,359.74 L202.49,360.29 L203.31,360.84 L204.28,361.32 L205.34,361.66 L206.43,361.90 L207.51,362.08 L208.53,362.27 L209.47,362.48 L210.30,362.77 L211.10,363.14 L211.87,363.53 L212.59,363.97 L213.26,364.45 L213.86,364.99 L214.39,365.59 L214.82,366.28 L215.17,367.11 L215.49,368.09 L215.84,369.18 L216.29,370.33 L216.87,371.46 L217.55,372.58 L218.27,373.74 L219.09,374.93 L219.99,376.11 L221.01,377.22 L222.16,378.22 L223.55,379.10 L225.17,379.88 L226.84,380.57 L228.42,381.16 L229.76,381.63 L230.69,381.99 Z" fill="#E56C4A"/>
<polyline points="200.05,357.96 199.11,357.73 198.04,357.54 196.92,357.42 195.80,357.37 194.74,357.41 193.80,357.55 192.94,357.79 192.10,358.10 191.34,358.49 190.66,358.96 190.09,359.52 189.63,360.19 189.28,361.04 188.99,362.06 188.79,363.20 188.69,364.41 188.70,365.65 188.83,366.89 189.13,368.17 189.53,369.54 190.05,370.93 190.67,372.31 191.39,373.62 192.19,374.80 193.27,375.92 194.65,377.13" fill="none" stroke="#F2916A" stroke-width="1.0" stroke-linecap="round" opacity="0.85"/>
<path d="M201.70,378.23 L204.98,381.46 M199.60,380.36 L203.37,384.08 M197.49,382.50 L201.76,386.71 M195.38,384.63 L199.15,388.36 M193.27,386.77 L196.55,390.00" fill="none" stroke="#CC5038" stroke-width="2.3" stroke-linecap="round"/>
<path d="M201.70,378.23 L204.98,381.46 M199.60,380.36 L203.37,384.08 M197.49,382.50 L201.76,386.71 M195.38,384.63 L199.15,388.36 M193.27,386.77 L196.55,390.00" fill="none" stroke="#E56C4A" stroke-width="1.4" stroke-linecap="round"/>
<path d="M186.23,376.51 L186.97,378.31 L188.05,380.40 L189.38,382.42 L190.76,384.30 L192.02,385.97 L192.97,387.34 L193.49,388.38 L202.91,378.02 L201.69,377.48 L200.15,376.70 L198.51,375.80 L196.91,374.87 L195.51,374.00 L194.43,373.29 L193.55,372.28 Z" fill="#E56C4A"/>
<path d="M271.89,382.46 L272.82,382.10 L274.15,381.63 L275.74,381.03 L277.44,380.34 L279.09,379.54 L280.54,378.62 L281.74,377.58 L282.79,376.43 L283.72,375.22 L284.55,374.01 L285.28,372.84 L285.97,371.70 L286.57,370.53 L287.03,369.34 L287.39,368.24 L287.70,367.28 L288.03,366.50 L288.41,365.88 L288.90,365.33 L289.46,364.83 L290.08,364.38 L290.77,363.97 L291.53,363.58 L292.29,363.23 L293.07,362.96 L293.97,362.75 L294.99,362.57 L296.07,362.39 L297.19,362.14 L298.31,361.78 L299.35,361.27 L300.21,360.69 L300.93,360.14 L301.55,359.68 L302.12,359.35 L302.73,359.12 L303.56,358.94 L304.55,358.79 L305.60,358.69 L306.62,358.67 L307.55,358.73 L308.35,358.87 L309.08,359.12 L309.77,359.43 L310.35,359.78 L310.81,360.16 L311.15,360.57 L311.39,361.02 L311.54,361.70 L311.67,362.56 L311.73,363.55 L311.71,364.59 L311.59,365.64 L311.37,366.67 L310.93,367.75 L310.40,368.92 L309.78,370.09 L309.08,371.22 L308.31,372.23 L307.55,373.01 L306.52,373.67 L305.14,374.51 L303.55,375.43 L301.92,376.32 L300.38,377.10 L299.16,377.65 L309.24,388.75 L309.76,387.72 L310.70,386.35 L311.98,384.67 L313.37,382.78 L314.73,380.73 L315.85,378.59 L316.71,376.56 L317.31,374.61 L317.72,372.68 L317.97,370.81 L318.07,369.03 L318.03,367.33 L317.95,365.67 L317.72,364.04 L317.33,362.50 L316.82,361.07 L316.18,359.75 L315.41,358.58 L314.52,357.52 L313.49,356.67 L312.40,356.06 L311.28,355.62 L310.17,355.33 L309.05,355.13 L307.84,355.00 L306.56,355.00 L305.28,355.11 L304.02,355.29 L302.82,355.55 L301.67,355.88 L300.59,356.35 L299.66,356.94 L298.91,357.54 L298.26,358.07 L297.68,358.50 L297.09,358.82 L296.35,359.07 L295.44,359.28 L294.41,359.48 L293.32,359.69 L292.19,359.97 L291.11,360.37 L290.15,360.82 L289.26,361.30 L288.38,361.86 L287.53,362.49 L286.73,363.24 L285.99,364.12 L285.36,365.16 L284.92,366.27 L284.58,367.34 L284.26,368.38 L283.90,369.35 L283.43,370.30 L282.82,371.34 L282.14,372.46 L281.40,373.56 L280.61,374.62 L279.76,375.57 L278.86,376.38 L277.73,377.11 L276.30,377.82 L274.73,378.48 L273.20,379.06 L271.86,379.56 L270.91,379.94 Z" fill="#CC5038"/>
<path d="M271.71,381.99 L272.64,381.63 L273.98,381.16 L275.56,380.57 L277.23,379.88 L278.85,379.10 L280.24,378.22 L281.39,377.22 L282.41,376.11 L283.31,374.93 L284.13,373.74 L284.85,372.58 L285.53,371.46 L286.11,370.33 L286.56,369.18 L286.91,368.09 L287.23,367.11 L287.58,366.28 L288.01,365.59 L288.54,364.99 L289.14,364.45 L289.81,363.97 L290.53,363.53 L291.30,363.14 L292.10,362.77 L292.93,362.48 L293.87,362.27 L294.89,362.08 L295.97,361.90 L297.06,361.66 L298.12,361.32 L299.09,360.84 L299.91,360.29 L300.63,359.74 L301.27,359.27 L301.89,358.90 L302.57,358.64 L303.45,358.45 L304.48,358.29 L305.55,358.19 L306.61,358.17 L307.59,358.23 L308.44,358.38 L309.22,358.64 L309.95,358.97 L310.59,359.34 L311.12,359.77 L311.52,360.23 L311.82,360.76 L312.00,361.51 L312.15,362.42 L312.22,363.46 L312.20,364.55 L312.09,365.65 L311.86,366.72 L311.43,367.84 L310.89,369.04 L310.26,370.25 L309.54,371.41 L308.76,372.46 L307.97,373.29 L306.89,374.00 L305.49,374.87 L303.89,375.80 L302.25,376.70 L300.71,377.48 L299.49,378.02 L308.91,388.38 L309.43,387.34 L310.38,385.97 L311.64,384.30 L313.02,382.42 L314.35,380.40 L315.43,378.31 L316.26,376.34 L316.84,374.42 L317.24,372.53 L317.48,370.69 L317.58,368.94 L317.54,367.28 L317.45,365.67 L317.22,364.09 L316.84,362.59 L316.34,361.21 L315.72,359.95 L314.98,358.84 L314.15,357.85 L313.19,357.07 L312.16,356.49 L311.10,356.09 L310.04,355.81 L308.96,355.62 L307.80,355.50 L306.57,355.50 L305.32,355.61 L304.09,355.79 L302.92,356.04 L301.83,356.36 L300.81,356.79 L299.94,357.35 L299.21,357.93 L298.56,358.47 L297.94,358.92 L297.28,359.28 L296.48,359.55 L295.54,359.77 L294.51,359.97 L293.42,360.18 L292.33,360.45 L291.30,360.83 L290.38,361.27 L289.50,361.74 L288.66,362.27 L287.85,362.88 L287.09,363.58 L286.39,364.41 L285.81,365.39 L285.39,366.44 L285.05,367.50 L284.73,368.54 L284.36,369.55 L283.87,370.54 L283.25,371.60 L282.56,372.73 L281.81,373.86 L281.00,374.94 L280.12,375.93 L279.16,376.78 L277.98,377.54 L276.51,378.27 L274.92,378.94 L273.37,379.53 L272.04,380.03 L271.09,380.41 Z" fill="#E56C4A"/>
<polyline points="302.35,357.96 303.29,357.73 304.36,357.54 305.48,357.42 306.60,357.37 307.66,357.41 308.60,357.55 309.46,357.79 310.30,358.10 311.06,358.49 311.74,358.96 312.31,359.52 312.77,360.19 313.12,361.04 313.41,362.06 313.61,363.20 313.71,364.41 313.70,365.65 313.57,366.89 313.27,368.17 312.87,369.54 312.35,370.93 311.73,372.31 311.01,373.62 310.21,374.80 309.13,375.92 307.75,377.13" fill="none" stroke="#F2916A" stroke-width="1.0" stroke-linecap="round" opacity="0.85"/>
<path d="M309.13,386.77 L305.85,390.00 M307.02,384.63 L303.25,388.36 M304.91,382.50 L300.64,386.71 M302.80,380.36 L299.03,384.08 M300.70,378.23 L297.42,381.46" fill="none" stroke="#CC5038" stroke-width="2.3" stroke-linecap="round"/>
<path d="M309.13,386.77 L305.85,390.00 M307.02,384.63 L303.25,388.36 M304.91,382.50 L300.64,386.71 M302.80,380.36 L299.03,384.08 M300.70,378.23 L297.42,381.46" fill="none" stroke="#E56C4A" stroke-width="1.4" stroke-linecap="round"/>
<path d="M308.85,372.28 L307.97,373.29 L306.89,374.00 L305.49,374.87 L303.89,375.80 L302.25,376.70 L300.71,377.48 L299.49,378.02 L308.91,388.38 L309.43,387.34 L310.38,385.97 L311.64,384.30 L313.02,382.42 L314.35,380.40 L315.43,378.31 L316.17,376.51 Z" fill="#E56C4A"/>
<path d="M251.2,366.5 C264.2,366.5 274.0,371.5 274.0,380 C274.0,388 273.2,393 270.7,400 C268.2,407 265.0,414 263.0,419 C261.8,422 261.3,424 261.4,426 C262.0,430 262.09999999999997,440 261.8,448 C261.5,453 260.8,457 260.59999999999997,459 Q260.3,462.5 256.2,462.5 L246.2,462.5 Q242.1,462.5 241.79999999999998,459 C241.6,457 240.89999999999998,453 240.6,448 C240.29999999999998,440 240.39999999999998,430 241.0,426 C241.1,424 240.6,422 239.39999999999998,419 C237.39999999999998,414 234.2,407 231.7,400 C229.2,393 228.39999999999998,388 228.39999999999998,380 C228.39999999999998,371.5 238.2,366.5 251.2,366.5 Z" fill="#F7A585" stroke="#D8603F" stroke-width="0.9"/>
<path d="M234.7,375.5 Q242.2,370 252.2,369.8" fill="none" stroke="#FCD6C4" stroke-width="0.9"/>
<path d="M243.6,423.9 Q247.2,427.8 251.2,428 Q255.2,427.8 258.8,423.9" fill="none" stroke="#D04A38" stroke-width="0.9"/>
<path d="M244.0,425 C245.0,436 244.39999999999998,448 245.2,460" fill="none" stroke="#D8603F" stroke-width="0.7"/>
<path d="M258.4,425 C257.4,436 258.0,448 257.2,460" fill="none" stroke="#D8603F" stroke-width="0.7"/>
<path d="M233.2,381.5 C241.2,386 245.7,393 247.6,402 L250.6,423" fill="none" stroke="#DA2D30" stroke-width="1.2" stroke-linecap="round"/>
<path d="M269.2,381.5 C261.2,386 256.7,393 254.79999999999998,402 L251.79999999999998,423" fill="none" stroke="#DA2D30" stroke-width="1.2" stroke-linecap="round"/>
<path d="M227.7,379.8 Q251.2,383.5 274.7,379.8" fill="none" stroke="#D44A38" stroke-width="1.4"/>
<path d="M376.8,386.5 C370.3,385.5 368.3,394 359.3,392.5" fill="none" stroke="#EEC050" stroke-width="3.8" stroke-linecap="round"/>
<path d="M376.8,386.5 C370.3,385.5 368.3,394 359.3,392.5" fill="none" stroke="#F9DA6C" stroke-width="2.6" stroke-linecap="round"/>
<path d="M421.8,386.5 C428.3,385.5 430.3,394 439.3,392.5" fill="none" stroke="#EEC050" stroke-width="3.8" stroke-linecap="round"/>
<path d="M421.8,386.5 C428.3,385.5 430.3,394 439.3,392.5" fill="none" stroke="#F9DA6C" stroke-width="2.6" stroke-linecap="round"/>
<ellipse cx="352.0" cy="386.6" rx="10.6" ry="6.6" transform="rotate(38 352.0 386.6)" fill="#F6A98C" stroke="#D8603F" stroke-width="0.9"/>
<ellipse cx="444.8" cy="387.6" rx="10" ry="6.5" transform="rotate(-40 444.8 387.6)" fill="#FCE192" stroke="#F0BA50" stroke-width="0.9"/>
<path d="M379.59,379.94 L378.64,379.56 L377.30,379.06 L375.77,378.48 L374.20,377.82 L372.77,377.11 L371.64,376.38 L370.74,375.57 L369.89,374.62 L369.10,373.56 L368.36,372.46 L367.68,371.34 L367.07,370.30 L366.60,369.35 L366.24,368.38 L365.92,367.34 L365.58,366.27 L365.14,365.16 L364.51,364.12 L363.77,363.24 L362.97,362.49 L362.12,361.86 L361.24,361.30 L360.35,360.82 L359.39,360.37 L358.31,359.97 L357.18,359.69 L356.09,359.48 L355.06,359.28 L354.15,359.07 L353.41,358.82 L352.82,358.50 L352.24,358.07 L351.59,357.54 L350.84,356.94 L349.91,356.35 L348.83,355.88 L347.68,355.55 L346.48,355.29 L345.22,355.11 L343.94,355.00 L342.66,355.00 L341.45,355.13 L340.33,355.33 L339.22,355.62 L338.10,356.06 L337.01,356.67 L335.98,357.52 L335.09,358.58 L334.32,359.75 L333.68,361.07 L333.17,362.50 L332.78,364.04 L332.55,365.67 L332.47,367.33 L332.43,369.03 L332.53,370.81 L332.78,372.68 L333.19,374.61 L333.79,376.56 L334.65,378.59 L335.77,380.73 L337.13,382.78 L338.52,384.67 L339.80,386.35 L340.74,387.72 L341.26,388.75 L351.34,377.65 L350.12,377.10 L348.58,376.32 L346.95,375.43 L345.36,374.51 L343.98,373.67 L342.95,373.01 L342.19,372.23 L341.42,371.22 L340.72,370.09 L340.10,368.92 L339.57,367.75 L339.13,366.67 L338.91,365.64 L338.79,364.59 L338.77,363.55 L338.83,362.56 L338.96,361.70 L339.11,361.02 L339.35,360.57 L339.69,360.16 L340.15,359.78 L340.73,359.43 L341.42,359.12 L342.15,358.87 L342.95,358.73 L343.88,358.67 L344.90,358.69 L345.95,358.79 L346.94,358.94 L347.77,359.12 L348.38,359.35 L348.95,359.68 L349.57,360.14 L350.29,360.69 L351.15,361.27 L352.19,361.78 L353.31,362.14 L354.43,362.39 L355.51,362.57 L356.53,362.75 L357.43,362.96 L358.21,363.23 L358.97,363.58 L359.73,363.97 L360.42,364.38 L361.04,364.83 L361.60,365.33 L362.09,365.88 L362.47,366.50 L362.80,367.28 L363.11,368.24 L363.47,369.34 L363.93,370.53 L364.53,371.70 L365.22,372.84 L365.95,374.01 L366.78,375.22 L367.71,376.43 L368.76,377.58 L369.96,378.62 L371.41,379.54 L373.06,380.34 L374.76,381.03 L376.35,381.63 L377.68,382.10 L378.61,382.46 Z" fill="#CC5038"/>
<path d="M379.41,380.41 L378.46,380.03 L377.13,379.53 L375.58,378.94 L373.99,378.27 L372.52,377.54 L371.34,376.78 L370.38,375.93 L369.50,374.94 L368.69,373.86 L367.94,372.73 L367.25,371.60 L366.63,370.54 L366.14,369.55 L365.77,368.54 L365.45,367.50 L365.11,366.44 L364.69,365.39 L364.11,364.41 L363.41,363.58 L362.65,362.88 L361.84,362.27 L361.00,361.74 L360.12,361.27 L359.20,360.83 L358.17,360.45 L357.08,360.18 L355.99,359.97 L354.96,359.77 L354.02,359.55 L353.22,359.28 L352.56,358.92 L351.94,358.47 L351.29,357.93 L350.56,357.35 L349.69,356.79 L348.67,356.36 L347.58,356.04 L346.41,355.79 L345.18,355.61 L343.93,355.50 L342.70,355.50 L341.54,355.62 L340.46,355.81 L339.40,356.09 L338.34,356.49 L337.31,357.07 L336.35,357.85 L335.52,358.84 L334.78,359.95 L334.16,361.21 L333.66,362.59 L333.28,364.09 L333.05,365.67 L332.96,367.28 L332.92,368.94 L333.02,370.69 L333.26,372.53 L333.66,374.42 L334.24,376.34 L335.07,378.31 L336.15,380.40 L337.48,382.42 L338.86,384.30 L340.12,385.97 L341.07,387.34 L341.59,388.38 L351.01,378.02 L349.79,377.48 L348.25,376.70 L346.61,375.80 L345.01,374.87 L343.61,374.00 L342.53,373.29 L341.74,372.46 L340.96,371.41 L340.24,370.25 L339.61,369.04 L339.07,367.84 L338.64,366.72 L338.41,365.65 L338.30,364.55 L338.28,363.46 L338.35,362.42 L338.50,361.51 L338.68,360.76 L338.98,360.23 L339.38,359.77 L339.91,359.34 L340.55,358.97 L341.28,358.64 L342.06,358.38 L342.91,358.23 L343.89,358.17 L344.95,358.19 L346.02,358.29 L347.05,358.45 L347.93,358.64 L348.61,358.90 L349.23,359.27 L349.87,359.74 L350.59,360.29 L351.41,360.84 L352.38,361.32 L353.44,361.66 L354.53,361.90 L355.61,362.08 L356.63,362.27 L357.57,362.48 L358.40,362.77 L359.20,363.14 L359.97,363.53 L360.69,363.97 L361.36,364.45 L361.96,364.99 L362.49,365.59 L362.92,366.28 L363.27,367.11 L363.59,368.09 L363.94,369.18 L364.39,370.33 L364.97,371.46 L365.65,372.58 L366.37,373.74 L367.19,374.93 L368.09,376.11 L369.11,377.22 L370.26,378.22 L371.65,379.10 L373.27,379.88 L374.94,380.57 L376.52,381.16 L377.86,381.63 L378.79,381.99 Z" fill="#E56C4A"/>
<polyline points="348.15,357.96 347.21,357.73 346.14,357.54 345.02,357.42 343.90,357.37 342.84,357.41 341.90,357.55 341.04,357.79 340.20,358.10 339.44,358.49 338.76,358.96 338.19,359.52 337.73,360.19 337.38,361.04 337.09,362.06 336.89,363.20 336.79,364.41 336.80,365.65 336.93,366.89 337.23,368.17 337.63,369.54 338.15,370.93 338.77,372.31 339.49,373.62 340.29,374.80 341.37,375.92 342.75,377.13" fill="none" stroke="#F2916A" stroke-width="1.0" stroke-linecap="round" opacity="0.85"/>
<path d="M349.80,378.23 L353.08,381.46 M347.70,380.36 L351.47,384.08 M345.59,382.50 L349.86,386.71 M343.48,384.63 L347.25,388.36 M341.37,386.77 L344.65,390.00" fill="none" stroke="#CC5038" stroke-width="2.3" stroke-linecap="round"/>
<path d="M349.80,378.23 L353.08,381.46 M347.70,380.36 L351.47,384.08 M345.59,382.50 L349.86,386.71 M343.48,384.63 L347.25,388.36 M341.37,386.77 L344.65,390.00" fill="none" stroke="#E56C4A" stroke-width="1.4" stroke-linecap="round"/>
<path d="M334.33,376.51 L335.07,378.31 L336.15,380.40 L337.48,382.42 L338.86,384.30 L340.12,385.97 L341.07,387.34 L341.59,388.38 L351.01,378.02 L349.79,377.48 L348.25,376.70 L346.61,375.80 L345.01,374.87 L343.61,374.00 L342.53,373.29 L341.65,372.28 Z" fill="#E56C4A"/>
<path d="M419.99,382.46 L420.92,382.10 L422.25,381.63 L423.84,381.03 L425.54,380.34 L427.19,379.54 L428.64,378.62 L429.84,377.58 L430.89,376.43 L431.82,375.22 L432.65,374.01 L433.38,372.84 L434.07,371.70 L434.67,370.53 L435.13,369.34 L435.49,368.24 L435.80,367.28 L436.13,366.50 L436.51,365.88 L437.00,365.33 L437.56,364.83 L438.18,364.38 L438.87,363.97 L439.63,363.58 L440.39,363.23 L441.17,362.96 L442.07,362.75 L443.09,362.57 L444.17,362.39 L445.29,362.14 L446.41,361.78 L447.45,361.27 L448.31,360.69 L449.03,360.14 L449.65,359.68 L450.22,359.35 L450.83,359.12 L451.66,358.94 L452.65,358.79 L453.70,358.69 L454.72,358.67 L455.65,358.73 L456.45,358.87 L457.18,359.12 L457.87,359.43 L458.45,359.78 L458.91,360.16 L459.25,360.57 L459.49,361.02 L459.64,361.70 L459.77,362.56 L459.83,363.55 L459.81,364.59 L459.69,365.64 L459.47,366.67 L459.03,367.75 L458.50,368.92 L457.88,370.09 L457.18,371.22 L456.41,372.23 L455.65,373.01 L454.62,373.67 L453.24,374.51 L451.65,375.43 L450.02,376.32 L448.48,377.10 L447.26,377.65 L457.34,388.75 L457.86,387.72 L458.80,386.35 L460.08,384.67 L461.47,382.78 L462.83,380.73 L463.95,378.59 L464.81,376.56 L465.41,374.61 L465.82,372.68 L466.07,370.81 L466.17,369.03 L466.13,367.33 L466.05,365.67 L465.82,364.04 L465.43,362.50 L464.92,361.07 L464.28,359.75 L463.51,358.58 L462.62,357.52 L461.59,356.67 L460.50,356.06 L459.38,355.62 L458.27,355.33 L457.15,355.13 L455.94,355.00 L454.66,355.00 L453.38,355.11 L452.12,355.29 L450.92,355.55 L449.77,355.88 L448.69,356.35 L447.76,356.94 L447.01,357.54 L446.36,358.07 L445.78,358.50 L445.19,358.82 L444.45,359.07 L443.54,359.28 L442.51,359.48 L441.42,359.69 L440.29,359.97 L439.21,360.37 L438.25,360.82 L437.36,361.30 L436.48,361.86 L435.63,362.49 L434.83,363.24 L434.09,364.12 L433.46,365.16 L433.02,366.27 L432.68,367.34 L432.36,368.38 L432.00,369.35 L431.53,370.30 L430.92,371.34 L430.24,372.46 L429.50,373.56 L428.71,374.62 L427.86,375.57 L426.96,376.38 L425.83,377.11 L424.40,377.82 L422.83,378.48 L421.30,379.06 L419.96,379.56 L419.01,379.94 Z" fill="#CC5038"/>
<path d="M419.81,381.99 L420.74,381.63 L422.08,381.16 L423.66,380.57 L425.33,379.88 L426.95,379.10 L428.34,378.22 L429.49,377.22 L430.51,376.11 L431.41,374.93 L432.23,373.74 L432.95,372.58 L433.63,371.46 L434.21,370.33 L434.66,369.18 L435.01,368.09 L435.33,367.11 L435.68,366.28 L436.11,365.59 L436.64,364.99 L437.24,364.45 L437.91,363.97 L438.63,363.53 L439.40,363.14 L440.20,362.77 L441.03,362.48 L441.97,362.27 L442.99,362.08 L444.07,361.90 L445.16,361.66 L446.22,361.32 L447.19,360.84 L448.01,360.29 L448.73,359.74 L449.37,359.27 L449.99,358.90 L450.67,358.64 L451.55,358.45 L452.58,358.29 L453.65,358.19 L454.71,358.17 L455.69,358.23 L456.54,358.38 L457.32,358.64 L458.05,358.97 L458.69,359.34 L459.22,359.77 L459.62,360.23 L459.92,360.76 L460.10,361.51 L460.25,362.42 L460.32,363.46 L460.30,364.55 L460.19,365.65 L459.96,366.72 L459.53,367.84 L458.99,369.04 L458.36,370.25 L457.64,371.41 L456.86,372.46 L456.07,373.29 L454.99,374.00 L453.59,374.87 L451.99,375.80 L450.35,376.70 L448.81,377.48 L447.59,378.02 L457.01,388.38 L457.53,387.34 L458.48,385.97 L459.74,384.30 L461.12,382.42 L462.45,380.40 L463.53,378.31 L464.36,376.34 L464.94,374.42 L465.34,372.53 L465.58,370.69 L465.68,368.94 L465.64,367.28 L465.55,365.67 L465.32,364.09 L464.94,362.59 L464.44,361.21 L463.82,359.95 L463.08,358.84 L462.25,357.85 L461.29,357.07 L460.26,356.49 L459.20,356.09 L458.14,355.81 L457.06,355.62 L455.90,355.50 L454.67,355.50 L453.42,355.61 L452.19,355.79 L451.02,356.04 L449.93,356.36 L448.91,356.79 L448.04,357.35 L447.31,357.93 L446.66,358.47 L446.04,358.92 L445.38,359.28 L444.58,359.55 L443.64,359.77 L442.61,359.97 L441.52,360.18 L440.43,360.45 L439.40,360.83 L438.48,361.27 L437.60,361.74 L436.76,362.27 L435.95,362.88 L435.19,363.58 L434.49,364.41 L433.91,365.39 L433.49,366.44 L433.15,367.50 L432.83,368.54 L432.46,369.55 L431.97,370.54 L431.35,371.60 L430.66,372.73 L429.91,373.86 L429.10,374.94 L428.22,375.93 L427.26,376.78 L426.08,377.54 L424.61,378.27 L423.02,378.94 L421.47,379.53 L420.14,380.03 L419.19,380.41 Z" fill="#E56C4A"/>
<polyline points="450.45,357.96 451.39,357.73 452.46,357.54 453.58,357.42 454.70,357.37 455.76,357.41 456.70,357.55 457.56,357.79 458.40,358.10 459.16,358.49 459.84,358.96 460.41,359.52 460.87,360.19 461.22,361.04 461.51,362.06 461.71,363.20 461.81,364.41 461.80,365.65 461.67,366.89 461.37,368.17 460.97,369.54 460.45,370.93 459.83,372.31 459.11,373.62 458.31,374.80 457.23,375.92 455.85,377.13" fill="none" stroke="#F2916A" stroke-width="1.0" stroke-linecap="round" opacity="0.85"/>
<path d="M457.23,386.77 L453.95,390.00 M455.12,384.63 L451.35,388.36 M453.01,382.50 L448.74,386.71 M450.90,380.36 L447.13,384.08 M448.80,378.23 L445.52,381.46" fill="none" stroke="#CC5038" stroke-width="2.3" stroke-linecap="round"/>
<path d="M457.23,386.77 L453.95,390.00 M455.12,384.63 L451.35,388.36 M453.01,382.50 L448.74,386.71 M450.90,380.36 L447.13,384.08 M448.80,378.23 L445.52,381.46" fill="none" stroke="#E56C4A" stroke-width="1.4" stroke-linecap="round"/>
<path d="M456.95,372.28 L456.07,373.29 L454.99,374.00 L453.59,374.87 L451.99,375.80 L450.35,376.70 L448.81,377.48 L447.59,378.02 L457.01,388.38 L457.53,387.34 L458.48,385.97 L459.74,384.30 L461.12,382.42 L462.45,380.40 L463.53,378.31 L464.27,376.51 Z" fill="#E56C4A"/>
<path d="M399.3,366.5 C412.3,366.5 422.1,371.5 422.1,380 C422.1,388 421.3,393 418.8,400 C416.3,407 413.1,414 411.1,419 C409.90000000000003,422 409.40000000000003,424 409.5,426 C410.1,430 410.2,440 409.90000000000003,448 C409.6,453 408.90000000000003,457 408.7,459 Q408.40000000000003,462.5 404.3,462.5 L394.3,462.5 Q390.2,462.5 389.90000000000003,459 C389.7,457 389.0,453 388.7,448 C388.40000000000003,440 388.5,430 389.1,426 C389.2,424 388.7,422 387.5,419 C385.5,414 382.3,407 379.8,400 C377.3,393 376.5,388 376.5,380 C376.5,371.5 386.3,366.5 399.3,366.5 Z" fill="#F7A585" stroke="#D8603F" stroke-width="0.9"/>
<path d="M382.8,375.5 Q390.3,370 400.3,369.8" fill="none" stroke="#FCD6C4" stroke-width="0.9"/>
<path d="M391.7,423.9 Q395.3,427.8 399.3,428 Q403.3,427.8 406.90000000000003,423.9" fill="none" stroke="#D04A38" stroke-width="0.9"/>
<path d="M392.1,425 C393.1,436 392.5,448 393.3,460" fill="none" stroke="#D8603F" stroke-width="0.7"/>
<path d="M406.5,425 C405.5,436 406.1,448 405.3,460" fill="none" stroke="#D8603F" stroke-width="0.7"/>
<path d="M381.3,381.5 C389.3,386 393.8,393 395.7,402 L398.7,423" fill="none" stroke="#DA2D30" stroke-width="1.9" stroke-linecap="round"/>
<path d="M417.3,381.5 C409.3,386 404.8,393 402.90000000000003,402 L399.90000000000003,423" fill="none" stroke="#DA2D30" stroke-width="1.9" stroke-linecap="round"/>
<path d="M375.8,379.8 Q399.3,383.5 422.8,379.8" fill="none" stroke="#D44A38" stroke-width="1.4"/>
<path d="M524.9,386.5 C518.4,385.5 516.4,394 507.4,392.5" fill="none" stroke="#EEC050" stroke-width="3.8" stroke-linecap="round"/>
<path d="M524.9,386.5 C518.4,385.5 516.4,394 507.4,392.5" fill="none" stroke="#F9DA6C" stroke-width="2.6" stroke-linecap="round"/>
<path d="M569.9,386.5 C576.4,385.5 578.4,394 587.4,392.5" fill="none" stroke="#EEC050" stroke-width="3.8" stroke-linecap="round"/>
<path d="M569.9,386.5 C576.4,385.5 578.4,394 587.4,392.5" fill="none" stroke="#F9DA6C" stroke-width="2.6" stroke-linecap="round"/>
<ellipse cx="500.1" cy="386.6" rx="10.6" ry="6.6" transform="rotate(38 500.1 386.6)" fill="#F6A98C" stroke="#D8603F" stroke-width="0.9"/>
<ellipse cx="592.9" cy="387.6" rx="10" ry="6.5" transform="rotate(-40 592.9 387.6)" fill="#FCE192" stroke="#F0BA50" stroke-width="0.9"/>
<path d="M527.69,379.94 L526.74,379.56 L525.40,379.06 L523.87,378.48 L522.30,377.82 L520.87,377.11 L519.74,376.38 L518.84,375.57 L517.99,374.62 L517.20,373.56 L516.46,372.46 L515.78,371.34 L515.17,370.30 L514.70,369.35 L514.34,368.38 L514.02,367.34 L513.68,366.27 L513.24,365.16 L512.61,364.12 L511.87,363.24 L511.07,362.49 L510.22,361.86 L509.34,361.30 L508.45,360.82 L507.49,360.37 L506.41,359.97 L505.28,359.69 L504.19,359.48 L503.16,359.28 L502.25,359.07 L501.51,358.82 L500.92,358.50 L500.34,358.07 L499.69,357.54 L498.94,356.94 L498.01,356.35 L496.93,355.88 L495.78,355.55 L494.58,355.29 L493.32,355.11 L492.04,355.00 L490.76,355.00 L489.55,355.13 L488.43,355.33 L487.32,355.62 L486.20,356.06 L485.11,356.67 L484.08,357.52 L483.19,358.58 L482.42,359.75 L481.78,361.07 L481.27,362.50 L480.88,364.04 L480.65,365.67 L480.57,367.33 L480.53,369.03 L480.63,370.81 L480.88,372.68 L481.29,374.61 L481.89,376.56 L482.75,378.59 L483.87,380.73 L485.23,382.78 L486.62,384.67 L487.90,386.35 L488.84,387.72 L489.36,388.75 L499.44,377.65 L498.22,377.10 L496.68,376.32 L495.05,375.43 L493.46,374.51 L492.08,373.67 L491.05,373.01 L490.29,372.23 L489.52,371.22 L488.82,370.09 L488.20,368.92 L487.67,367.75 L487.23,366.67 L487.01,365.64 L486.89,364.59 L486.87,363.55 L486.93,362.56 L487.06,361.70 L487.21,361.02 L487.45,360.57 L487.79,360.16 L488.25,359.78 L488.83,359.43 L489.52,359.12 L490.25,358.87 L491.05,358.73 L491.98,358.67 L493.00,358.69 L494.05,358.79 L495.04,358.94 L495.87,359.12 L496.48,359.35 L497.05,359.68 L497.67,360.14 L498.39,360.69 L499.25,361.27 L500.29,361.78 L501.41,362.14 L502.53,362.39 L503.61,362.57 L504.63,362.75 L505.53,362.96 L506.31,363.23 L507.07,363.58 L507.83,363.97 L508.52,364.38 L509.14,364.83 L509.70,365.33 L510.19,365.88 L510.57,366.50 L510.90,367.28 L511.21,368.24 L511.57,369.34 L512.03,370.53 L512.63,371.70 L513.32,372.84 L514.05,374.01 L514.88,375.22 L515.81,376.43 L516.86,377.58 L518.06,378.62 L519.51,379.54 L521.16,380.34 L522.86,381.03 L524.45,381.63 L525.78,382.10 L526.71,382.46 Z" fill="#CC5038"/>
<path d="M527.51,380.41 L526.56,380.03 L525.23,379.53 L523.68,378.94 L522.09,378.27 L520.62,377.54 L519.44,376.78 L518.48,375.93 L517.60,374.94 L516.79,373.86 L516.04,372.73 L515.35,371.60 L514.73,370.54 L514.24,369.55 L513.87,368.54 L513.55,367.50 L513.21,366.44 L512.79,365.39 L512.21,364.41 L511.51,363.58 L510.75,362.88 L509.94,362.27 L509.10,361.74 L508.22,361.27 L507.30,360.83 L506.27,360.45 L505.18,360.18 L504.09,359.97 L503.06,359.77 L502.12,359.55 L501.32,359.28 L500.66,358.92 L500.04,358.47 L499.39,357.93 L498.66,357.35 L497.79,356.79 L496.77,356.36 L495.68,356.04 L494.51,355.79 L493.28,355.61 L492.03,355.50 L490.80,355.50 L489.64,355.62 L488.56,355.81 L487.50,356.09 L486.44,356.49 L485.41,357.07 L484.45,357.85 L483.62,358.84 L482.88,359.95 L482.26,361.21 L481.76,362.59 L481.38,364.09 L481.15,365.67 L481.06,367.28 L481.02,368.94 L481.12,370.69 L481.36,372.53 L481.76,374.42 L482.34,376.34 L483.17,378.31 L484.25,380.40 L485.58,382.42 L486.96,384.30 L488.22,385.97 L489.17,387.34 L489.69,388.38 L499.11,378.02 L497.89,377.48 L496.35,376.70 L494.71,375.80 L493.11,374.87 L491.71,374.00 L490.63,373.29 L489.84,372.46 L489.06,371.41 L488.34,370.25 L487.71,369.04 L487.17,367.84 L486.74,366.72 L486.51,365.65 L486.40,364.55 L486.38,363.46 L486.45,362.42 L486.60,361.51 L486.78,360.76 L487.08,360.23 L487.48,359.77 L488.01,359.34 L488.65,358.97 L489.38,358.64 L490.16,358.38 L491.01,358.23 L491.99,358.17 L493.05,358.19 L494.12,358.29 L495.15,358.45 L496.03,358.64 L496.71,358.90 L497.33,359.27 L497.97,359.74 L498.69,360.29 L499.51,360.84 L500.48,361.32 L501.54,361.66 L502.63,361.90 L503.71,362.08 L504.73,362.27 L505.67,362.48 L506.50,362.77 L507.30,363.14 L508.07,363.53 L508.79,363.97 L509.46,364.45 L510.06,364.99 L510.59,365.59 L511.02,366.28 L511.37,367.11 L511.69,368.09 L512.04,369.18 L512.49,370.33 L513.07,371.46 L513.75,372.58 L514.47,373.74 L515.29,374.93 L516.19,376.11 L517.21,377.22 L518.36,378.22 L519.75,379.10 L521.37,379.88 L523.04,380.57 L524.62,381.16 L525.96,381.63 L526.89,381.99 Z" fill="#E56C4A"/>
<polyline points="496.25,357.96 495.31,357.73 494.24,357.54 493.12,357.42 492.00,357.37 490.94,357.41 490.00,357.55 489.14,357.79 488.30,358.10 487.54,358.49 486.86,358.96 486.29,359.52 485.83,360.19 485.48,361.04 485.19,362.06 484.99,363.20 484.89,364.41 484.90,365.65 485.03,366.89 485.33,368.17 485.73,369.54 486.25,370.93 486.87,372.31 487.59,373.62 488.39,374.80 489.47,375.92 490.85,377.13" fill="none" stroke="#F2916A" stroke-width="1.0" stroke-linecap="round" opacity="0.85"/>
<path d="M497.90,378.23 L501.18,381.46 M495.80,380.36 L499.57,384.08 M493.69,382.50 L497.96,386.71 M491.58,384.63 L495.35,388.36 M489.47,386.77 L492.75,390.00" fill="none" stroke="#CC5038" stroke-width="2.3" stroke-linecap="round"/>
<path d="M497.90,378.23 L501.18,381.46 M495.80,380.36 L499.57,384.08 M493.69,382.50 L497.96,386.71 M491.58,384.63 L495.35,388.36 M489.47,386.77 L492.75,390.00" fill="none" stroke="#E56C4A" stroke-width="1.4" stroke-linecap="round"/>
<path d="M482.43,376.51 L483.17,378.31 L484.25,380.40 L485.58,382.42 L486.96,384.30 L488.22,385.97 L489.17,387.34 L489.69,388.38 L499.11,378.02 L497.89,377.48 L496.35,376.70 L494.71,375.80 L493.11,374.87 L491.71,374.00 L490.63,373.29 L489.75,372.28 Z" fill="#E56C4A"/>
<path d="M568.09,382.46 L569.02,382.10 L570.35,381.63 L571.94,381.03 L573.64,380.34 L575.29,379.54 L576.74,378.62 L577.94,377.58 L578.99,376.43 L579.92,375.22 L580.75,374.01 L581.48,372.84 L582.17,371.70 L582.77,370.53 L583.23,369.34 L583.59,368.24 L583.90,367.28 L584.23,366.50 L584.61,365.88 L585.10,365.33 L585.66,364.83 L586.28,364.38 L586.97,363.97 L587.73,363.58 L588.49,363.23 L589.27,362.96 L590.17,362.75 L591.19,362.57 L592.27,362.39 L593.39,362.14 L594.51,361.78 L595.55,361.27 L596.41,360.69 L597.13,360.14 L597.75,359.68 L598.32,359.35 L598.93,359.12 L599.76,358.94 L600.75,358.79 L601.80,358.69 L602.82,358.67 L603.75,358.73 L604.55,358.87 L605.28,359.12 L605.97,359.43 L606.55,359.78 L607.01,360.16 L607.35,360.57 L607.59,361.02 L607.74,361.70 L607.87,362.56 L607.93,363.55 L607.91,364.59 L607.79,365.64 L607.57,366.67 L607.13,367.75 L606.60,368.92 L605.98,370.09 L605.28,371.22 L604.51,372.23 L603.75,373.01 L602.72,373.67 L601.34,374.51 L599.75,375.43 L598.12,376.32 L596.58,377.10 L595.36,377.65 L605.44,388.75 L605.96,387.72 L606.90,386.35 L608.18,384.67 L609.57,382.78 L610.93,380.73 L612.05,378.59 L612.91,376.56 L613.51,374.61 L613.92,372.68 L614.17,370.81 L614.27,369.03 L614.23,367.33 L614.15,365.67 L613.92,364.04 L613.53,362.50 L613.02,361.07 L612.38,359.75 L611.61,358.58 L610.72,357.52 L609.69,356.67 L608.60,356.06 L607.48,355.62 L606.37,355.33 L605.25,355.13 L604.04,355.00 L602.76,355.00 L601.48,355.11 L600.22,355.29 L599.02,355.55 L597.87,355.88 L596.79,356.35 L595.86,356.94 L595.11,357.54 L594.46,358.07 L593.88,358.50 L593.29,358.82 L592.55,359.07 L591.64,359.28 L590.61,359.48 L589.52,359.69 L588.39,359.97 L587.31,360.37 L586.35,360.82 L585.46,361.30 L584.58,361.86 L583.73,362.49 L582.93,363.24 L582.19,364.12 L581.56,365.16 L581.12,366.27 L580.78,367.34 L580.46,368.38 L580.10,369.35 L579.63,370.30 L579.02,371.34 L578.34,372.46 L577.60,373.56 L576.81,374.62 L575.96,375.57 L575.06,376.38 L573.93,377.11 L572.50,377.82 L570.93,378.48 L569.40,379.06 L568.06,379.56 L567.11,379.94 Z" fill="#CC5038"/>
<path d="M567.91,381.99 L568.84,381.63 L570.18,381.16 L571.76,380.57 L573.43,379.88 L575.05,379.10 L576.44,378.22 L577.59,377.22 L578.61,376.11 L579.51,374.93 L580.33,373.74 L581.05,372.58 L581.73,371.46 L582.31,370.33 L582.76,369.18 L583.11,368.09 L583.43,367.11 L583.78,366.28 L584.21,365.59 L584.74,364.99 L585.34,364.45 L586.01,363.97 L586.73,363.53 L587.50,363.14 L588.30,362.77 L589.13,362.48 L590.07,362.27 L591.09,362.08 L592.17,361.90 L593.26,361.66 L594.32,361.32 L595.29,360.84 L596.11,360.29 L596.83,359.74 L597.47,359.27 L598.09,358.90 L598.77,358.64 L599.65,358.45 L600.68,358.29 L601.75,358.19 L602.81,358.17 L603.79,358.23 L604.64,358.38 L605.42,358.64 L606.15,358.97 L606.79,359.34 L607.32,359.77 L607.72,360.23 L608.02,360.76 L608.20,361.51 L608.35,362.42 L608.42,363.46 L608.40,364.55 L608.29,365.65 L608.06,366.72 L607.63,367.84 L607.09,369.04 L606.46,370.25 L605.74,371.41 L604.96,372.46 L604.17,373.29 L603.09,374.00 L601.69,374.87 L600.09,375.80 L598.45,376.70 L596.91,377.48 L595.69,378.02 L605.11,388.38 L605.63,387.34 L606.58,385.97 L607.84,384.30 L609.22,382.42 L610.55,380.40 L611.63,378.31 L612.46,376.34 L613.04,374.42 L613.44,372.53 L613.68,370.69 L613.78,368.94 L613.74,367.28 L613.65,365.67 L613.42,364.09 L613.04,362.59 L612.54,361.21 L611.92,359.95 L611.18,358.84 L610.35,357.85 L609.39,357.07 L608.36,356.49 L607.30,356.09 L606.24,355.81 L605.16,355.62 L604.00,355.50 L602.77,355.50 L601.52,355.61 L600.29,355.79 L599.12,356.04 L598.03,356.36 L597.01,356.79 L596.14,357.35 L595.41,357.93 L594.76,358.47 L594.14,358.92 L593.48,359.28 L592.68,359.55 L591.74,359.77 L590.71,359.97 L589.62,360.18 L588.53,360.45 L587.50,360.83 L586.58,361.27 L585.70,361.74 L584.86,362.27 L584.05,362.88 L583.29,363.58 L582.59,364.41 L582.01,365.39 L581.59,366.44 L581.25,367.50 L580.93,368.54 L580.56,369.55 L580.07,370.54 L579.45,371.60 L578.76,372.73 L578.01,373.86 L577.20,374.94 L576.32,375.93 L575.36,376.78 L574.18,377.54 L572.71,378.27 L571.12,378.94 L569.57,379.53 L568.24,380.03 L567.29,380.41 Z" fill="#E56C4A"/>
<polyline points="598.55,357.96 599.49,357.73 600.56,357.54 601.68,357.42 602.80,357.37 603.86,357.41 604.80,357.55 605.66,357.79 606.50,358.10 607.26,358.49 607.94,358.96 608.51,359.52 608.97,360.19 609.32,361.04 609.61,362.06 609.81,363.20 609.91,364.41 609.90,365.65 609.77,366.89 609.47,368.17 609.07,369.54 608.55,370.93 607.93,372.31 607.21,373.62 606.41,374.80 605.33,375.92 603.95,377.13" fill="none" stroke="#F2916A" stroke-width="1.0" stroke-linecap="round" opacity="0.85"/>
<path d="M605.33,386.77 L602.05,390.00 M603.22,384.63 L599.45,388.36 M601.11,382.50 L596.84,386.71 M599.00,380.36 L595.23,384.08 M596.90,378.23 L593.62,381.46" fill="none" stroke="#CC5038" stroke-width="2.3" stroke-linecap="round"/>
<path d="M605.33,386.77 L602.05,390.00 M603.22,384.63 L599.45,388.36 M601.11,382.50 L596.84,386.71 M599.00,380.36 L595.23,384.08 M596.90,378.23 L593.62,381.46" fill="none" stroke="#E56C4A" stroke-width="1.4" stroke-linecap="round"/>
<path d="M605.05,372.28 L604.17,373.29 L603.09,374.00 L601.69,374.87 L600.09,375.80 L598.45,376.70 L596.91,377.48 L595.69,378.02 L605.11,388.38 L605.63,387.34 L606.58,385.97 L607.84,384.30 L609.22,382.42 L610.55,380.40 L611.63,378.31 L612.37,376.51 Z" fill="#E56C4A"/>
<path d="M547.4,366.5 C560.4,366.5 570.1999999999999,371.5 570.1999999999999,380 C570.1999999999999,388 569.4,393 566.9,400 C564.4,407 561.1999999999999,414 559.1999999999999,419 C558.0,422 557.5,424 557.6,426 C558.1999999999999,430 558.3,440 558.0,448 C557.6999999999999,453 557.0,457 556.8,459 Q556.5,462.5 552.4,462.5 L542.4,462.5 Q538.3,462.5 538.0,459 C537.8,457 537.1,453 536.8,448 C536.5,440 536.6,430 537.1999999999999,426 C537.3,424 536.8,422 535.6,419 C533.6,414 530.4,407 527.9,400 C525.4,393 524.6,388 524.6,380 C524.6,371.5 534.4,366.5 547.4,366.5 Z" fill="#F7A585" stroke="#D8603F" stroke-width="0.9"/>
<path d="M530.9,375.5 Q538.4,370 548.4,369.8" fill="none" stroke="#FCD6C4" stroke-width="0.9"/>
<path d="M539.8,423.9 Q543.4,427.8 547.4,428 Q551.4,427.8 555.0,423.9" fill="none" stroke="#D04A38" stroke-width="0.9"/>
<path d="M540.1999999999999,425 C541.1999999999999,436 540.6,448 541.4,460" fill="none" stroke="#D8603F" stroke-width="0.7"/>
<path d="M554.6,425 C553.6,436 554.1999999999999,448 553.4,460" fill="none" stroke="#D8603F" stroke-width="0.7"/>
<path d="M529.4,381.5 C537.4,386 541.9,393 543.8,402 L546.8,423" fill="none" stroke="#DA2D30" stroke-width="2.9" stroke-linecap="round"/>
<path d="M565.4,381.5 C557.4,386 552.9,393 551.0,402 L548.0,423" fill="none" stroke="#DA2D30" stroke-width="2.9" stroke-linecap="round"/>
<path d="M523.9,379.8 Q547.4,383.5 570.9,379.8" fill="none" stroke="#D44A38" stroke-width="1.4"/>
<ellipse cx="53" cy="384" rx="3.2" ry="2.6" fill="#F8B79A" stroke="#E07A5A" stroke-width="0.5"/>
<circle cx="199.5" cy="383.3" r="2.6" fill="#F8B79A" stroke="#D8603F" stroke-width="0.7"/>
<circle cx="340.8" cy="378.4" r="1.5" fill="#FCE39A" stroke="#F2B860" stroke-width="0.4"/>
<circle cx="345.8" cy="382.2" r="2.1" fill="#D9453A"/>
<ellipse cx="494.1" cy="383.6" rx="2.8" ry="2.3" fill="#F9C592"/>
<circle cx="544.2" cy="388" r="1.8" fill="#FCE7A8" stroke="#E8A050" stroke-width="0.5"/>
<line x1="50.8" y1="383" x2="43.2" y2="411" stroke="#3C7FA6" stroke-width="0.9"/>
<text x="43.7" y="419.5" font-family='"Liberation Serif", serif' font-size="8.5" font-weight="bold" fill="#2F7BA2" text-anchor="middle" textLength="25.7" lengthAdjust="spacingAndGlyphs" stroke="#2F7BA2" stroke-width="0.27" stroke-linejoin="round" >Corpus</text>
<text x="43.7" y="428" font-family='"Liberation Serif", serif' font-size="8.5" font-weight="bold" fill="#2F7BA2" text-anchor="middle" textLength="31.6" lengthAdjust="spacingAndGlyphs" stroke="#2F7BA2" stroke-width="0.27" stroke-linejoin="round" >Albicans</text>
<line x1="107" y1="396.3" x2="129" y2="411" stroke="#3C7FA6" stroke-width="0.9"/>
<text x="119.6" y="420.3" font-family='"Liberation Serif", serif' font-size="8.5" font-weight="bold" fill="#E0457F" text-anchor="start" textLength="51" lengthAdjust="spacingAndGlyphs" stroke="#E0457F" stroke-width="0.27" stroke-linejoin="round" >Endometrium</text>
<line x1="107" y1="432.3" x2="119.3" y2="438.8" stroke="#3C7FA6" stroke-width="0.9"/>
<text x="119.3" y="449.5" font-family='"Liberation Serif", serif' font-size="8.5" font-weight="bold" fill="#2F7BA2" text-anchor="start" textLength="51.3" lengthAdjust="spacingAndGlyphs" stroke="#2F7BA2" stroke-width="0.27" stroke-linejoin="round" >Menstruation</text>
<line x1="198.4" y1="382.5" x2="200" y2="411.8" stroke="#3C7FA6" stroke-width="0.9"/>
<text x="201.7" y="419.8" font-family='"Liberation Serif", serif' font-size="8.5" font-weight="bold" fill="#2F7BA2" text-anchor="middle" textLength="31.5" lengthAdjust="spacingAndGlyphs" stroke="#2F7BA2" stroke-width="0.27" stroke-linejoin="round" >Growing</text>
<text x="201.3" y="428.6" font-family='"Liberation Serif", serif' font-size="8.5" font-weight="bold" fill="#2F7BA2" text-anchor="middle" textLength="26.5" lengthAdjust="spacingAndGlyphs" stroke="#2F7BA2" stroke-width="0.27" stroke-linejoin="round" >Follicle</text>
<line x1="255" y1="396.3" x2="277.5" y2="410" stroke="#3C7FA6" stroke-width="0.9"/>
<text x="266.7" y="420.3" font-family='"Liberation Serif", serif' font-size="8.5" font-weight="bold" fill="#E0457F" text-anchor="start" textLength="51.9" lengthAdjust="spacingAndGlyphs" stroke="#E0457F" stroke-width="0.27" stroke-linejoin="round" >Endometrium</text>
<line x1="370.4" y1="355.3" x2="341" y2="375.8" stroke="#3C7FA6" stroke-width="0.9"/>
<text x="372" y="359.8" font-family='"Liberation Serif", serif' font-size="8.5" font-weight="bold" fill="#D04B3A" text-anchor="start" textLength="13.6" lengthAdjust="spacingAndGlyphs" stroke="#D04B3A" stroke-width="0.27" stroke-linejoin="round" >Egg</text>
<line x1="345.5" y1="381.6" x2="351.4" y2="413" stroke="#3C7FA6" stroke-width="0.9"/>
<text x="332.3" y="423.6" font-family='"Liberation Serif", serif' font-size="8.5" font-weight="bold" fill="#D04B3A" text-anchor="start" textLength="37.2" lengthAdjust="spacingAndGlyphs" stroke="#D04B3A" stroke-width="0.27" stroke-linejoin="round" >Ovulation</text>
<line x1="403.5" y1="396.3" x2="426" y2="410" stroke="#3C7FA6" stroke-width="0.9"/>
<text x="414.4" y="420.3" font-family='"Liberation Serif", serif' font-size="8.5" font-weight="bold" fill="#E0457F" text-anchor="start" textLength="51.2" lengthAdjust="spacingAndGlyphs" stroke="#E0457F" stroke-width="0.27" stroke-linejoin="round" >Endometrium</text>
<line x1="493.4" y1="387.5" x2="480.3" y2="433" stroke="#3C7FA6" stroke-width="0.9"/>
<text x="451.5" y="441.7" font-family='"Liberation Serif", serif' font-size="8.5" font-weight="bold" fill="#2F7BA2" text-anchor="start" textLength="57" lengthAdjust="spacingAndGlyphs" stroke="#2F7BA2" stroke-width="0.27" stroke-linejoin="round" >Corpus Luteum</text>
<line x1="544.7" y1="388.4" x2="525.7" y2="427" stroke="#3C7FA6" stroke-width="0.9"/>
<text x="515.4" y="436.3" font-family='"Liberation Serif", serif' font-size="8.5" font-weight="bold" fill="#D04B3A" text-anchor="start" textLength="14.6" lengthAdjust="spacingAndGlyphs" stroke="#D04B3A" stroke-width="0.27" stroke-linejoin="round" >Egg</text>
<line x1="551" y1="396.3" x2="574" y2="410" stroke="#3C7FA6" stroke-width="0.9"/>
<text x="562.3" y="420.3" font-family='"Liberation Serif", serif' font-size="8.5" font-weight="bold" fill="#E0457F" text-anchor="start" textLength="51.3" lengthAdjust="spacingAndGlyphs" stroke="#E0457F" stroke-width="0.27" stroke-linejoin="round" >Endometrium</text>
</svg>
</body></html>
